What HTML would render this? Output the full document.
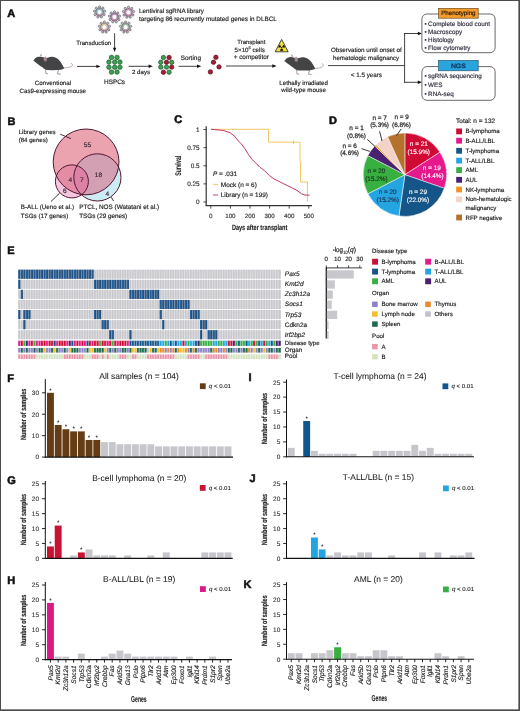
<!DOCTYPE html><html><head><meta charset="utf-8"><title>Figure</title><style>html,body{margin:0;padding:0;background:#fff;width:520px;height:711px;overflow:hidden}svg{display:block;will-change:transform}text{font-family:"Liberation Sans",sans-serif;text-rendering:geometricPrecision}</style></head><body><svg width="520" height="711" viewBox="0 0 520 711" fill="#222"><text x="7.20" y="17.10" font-size="11.00" fill="#111" font-weight="bold" stroke="#111" stroke-width="0.55">A</text>
<defs><linearGradient id="vg1" x1="0" y1="0" x2="0" y2="1"><stop offset="0" stop-color="#86c7c9"/><stop offset="0.5" stop-color="#86c7c9"/><stop offset="1" stop-color="#d890ac"/></linearGradient></defs>
<circle cx="99.60" cy="7.00" r="1.15" fill="#c8c8cc" stroke="#4a4450" stroke-width="0.55"/>
<circle cx="102.88" cy="8.19" r="1.15" fill="#c8c8cc" stroke="#4a4450" stroke-width="0.55"/>
<circle cx="104.62" cy="11.21" r="1.15" fill="#c8c8cc" stroke="#4a4450" stroke-width="0.55"/>
<circle cx="104.02" cy="14.65" r="1.15" fill="#c8c8cc" stroke="#4a4450" stroke-width="0.55"/>
<circle cx="101.34" cy="16.89" r="1.15" fill="#c8c8cc" stroke="#4a4450" stroke-width="0.55"/>
<circle cx="97.86" cy="16.89" r="1.15" fill="#c8c8cc" stroke="#4a4450" stroke-width="0.55"/>
<circle cx="95.18" cy="14.65" r="1.15" fill="#c8c8cc" stroke="#4a4450" stroke-width="0.55"/>
<circle cx="94.58" cy="11.21" r="1.15" fill="#c8c8cc" stroke="#4a4450" stroke-width="0.55"/>
<circle cx="96.32" cy="8.19" r="1.15" fill="#c8c8cc" stroke="#4a4450" stroke-width="0.55"/>
<circle cx="99.60" cy="12.10" r="3.90" fill="url(#vg1)" stroke="#5a4a66" stroke-width="0.6"/>
<circle cx="99.60" cy="12.10" r="2.40" fill="#fff" stroke="#9a7a90" stroke-width="0.4"/>
<defs><linearGradient id="vg2" x1="0" y1="0" x2="0" y2="1"><stop offset="0" stop-color="#b88ab9"/><stop offset="0.5" stop-color="#b88ab9"/><stop offset="1" stop-color="#d890ac"/></linearGradient></defs>
<circle cx="114.50" cy="11.90" r="1.15" fill="#c8c8cc" stroke="#4a4450" stroke-width="0.55"/>
<circle cx="117.78" cy="13.09" r="1.15" fill="#c8c8cc" stroke="#4a4450" stroke-width="0.55"/>
<circle cx="119.52" cy="16.11" r="1.15" fill="#c8c8cc" stroke="#4a4450" stroke-width="0.55"/>
<circle cx="118.92" cy="19.55" r="1.15" fill="#c8c8cc" stroke="#4a4450" stroke-width="0.55"/>
<circle cx="116.24" cy="21.79" r="1.15" fill="#c8c8cc" stroke="#4a4450" stroke-width="0.55"/>
<circle cx="112.76" cy="21.79" r="1.15" fill="#c8c8cc" stroke="#4a4450" stroke-width="0.55"/>
<circle cx="110.08" cy="19.55" r="1.15" fill="#c8c8cc" stroke="#4a4450" stroke-width="0.55"/>
<circle cx="109.48" cy="16.11" r="1.15" fill="#c8c8cc" stroke="#4a4450" stroke-width="0.55"/>
<circle cx="111.22" cy="13.09" r="1.15" fill="#c8c8cc" stroke="#4a4450" stroke-width="0.55"/>
<circle cx="114.50" cy="17.00" r="3.90" fill="url(#vg2)" stroke="#5a4a66" stroke-width="0.6"/>
<circle cx="114.50" cy="17.00" r="2.40" fill="#fff" stroke="#9a7a90" stroke-width="0.4"/>
<defs><linearGradient id="vg3" x1="0" y1="0" x2="0" y2="1"><stop offset="0" stop-color="#d898b8"/><stop offset="0.5" stop-color="#d898b8"/><stop offset="1" stop-color="#d890ac"/></linearGradient></defs>
<circle cx="128.50" cy="7.30" r="1.15" fill="#c8c8cc" stroke="#4a4450" stroke-width="0.55"/>
<circle cx="131.78" cy="8.49" r="1.15" fill="#c8c8cc" stroke="#4a4450" stroke-width="0.55"/>
<circle cx="133.52" cy="11.51" r="1.15" fill="#c8c8cc" stroke="#4a4450" stroke-width="0.55"/>
<circle cx="132.92" cy="14.95" r="1.15" fill="#c8c8cc" stroke="#4a4450" stroke-width="0.55"/>
<circle cx="130.24" cy="17.19" r="1.15" fill="#c8c8cc" stroke="#4a4450" stroke-width="0.55"/>
<circle cx="126.76" cy="17.19" r="1.15" fill="#c8c8cc" stroke="#4a4450" stroke-width="0.55"/>
<circle cx="124.08" cy="14.95" r="1.15" fill="#c8c8cc" stroke="#4a4450" stroke-width="0.55"/>
<circle cx="123.48" cy="11.51" r="1.15" fill="#c8c8cc" stroke="#4a4450" stroke-width="0.55"/>
<circle cx="125.22" cy="8.49" r="1.15" fill="#c8c8cc" stroke="#4a4450" stroke-width="0.55"/>
<circle cx="128.50" cy="12.40" r="3.90" fill="url(#vg3)" stroke="#5a4a66" stroke-width="0.6"/>
<circle cx="128.50" cy="12.40" r="2.40" fill="#fff" stroke="#9a7a90" stroke-width="0.4"/>
<defs><linearGradient id="vg4" x1="0" y1="0" x2="0" y2="1"><stop offset="0" stop-color="#e6dc98"/><stop offset="0.5" stop-color="#e6dc98"/><stop offset="1" stop-color="#d890ac"/></linearGradient></defs>
<circle cx="104.40" cy="22.10" r="1.15" fill="#c8c8cc" stroke="#4a4450" stroke-width="0.55"/>
<circle cx="107.68" cy="23.29" r="1.15" fill="#c8c8cc" stroke="#4a4450" stroke-width="0.55"/>
<circle cx="109.42" cy="26.31" r="1.15" fill="#c8c8cc" stroke="#4a4450" stroke-width="0.55"/>
<circle cx="108.82" cy="29.75" r="1.15" fill="#c8c8cc" stroke="#4a4450" stroke-width="0.55"/>
<circle cx="106.14" cy="31.99" r="1.15" fill="#c8c8cc" stroke="#4a4450" stroke-width="0.55"/>
<circle cx="102.66" cy="31.99" r="1.15" fill="#c8c8cc" stroke="#4a4450" stroke-width="0.55"/>
<circle cx="99.98" cy="29.75" r="1.15" fill="#c8c8cc" stroke="#4a4450" stroke-width="0.55"/>
<circle cx="99.38" cy="26.31" r="1.15" fill="#c8c8cc" stroke="#4a4450" stroke-width="0.55"/>
<circle cx="101.12" cy="23.29" r="1.15" fill="#c8c8cc" stroke="#4a4450" stroke-width="0.55"/>
<circle cx="104.40" cy="27.20" r="3.90" fill="url(#vg4)" stroke="#5a4a66" stroke-width="0.6"/>
<circle cx="104.40" cy="27.20" r="2.40" fill="#fff" stroke="#9a7a90" stroke-width="0.4"/>
<defs><linearGradient id="vg5" x1="0" y1="0" x2="0" y2="1"><stop offset="0" stop-color="#98cca0"/><stop offset="0.5" stop-color="#98cca0"/><stop offset="1" stop-color="#d890ac"/></linearGradient></defs>
<circle cx="125.60" cy="22.10" r="1.15" fill="#c8c8cc" stroke="#4a4450" stroke-width="0.55"/>
<circle cx="128.88" cy="23.29" r="1.15" fill="#c8c8cc" stroke="#4a4450" stroke-width="0.55"/>
<circle cx="130.62" cy="26.31" r="1.15" fill="#c8c8cc" stroke="#4a4450" stroke-width="0.55"/>
<circle cx="130.02" cy="29.75" r="1.15" fill="#c8c8cc" stroke="#4a4450" stroke-width="0.55"/>
<circle cx="127.34" cy="31.99" r="1.15" fill="#c8c8cc" stroke="#4a4450" stroke-width="0.55"/>
<circle cx="123.86" cy="31.99" r="1.15" fill="#c8c8cc" stroke="#4a4450" stroke-width="0.55"/>
<circle cx="121.18" cy="29.75" r="1.15" fill="#c8c8cc" stroke="#4a4450" stroke-width="0.55"/>
<circle cx="120.58" cy="26.31" r="1.15" fill="#c8c8cc" stroke="#4a4450" stroke-width="0.55"/>
<circle cx="122.32" cy="23.29" r="1.15" fill="#c8c8cc" stroke="#4a4450" stroke-width="0.55"/>
<circle cx="125.60" cy="27.20" r="3.90" fill="url(#vg5)" stroke="#5a4a66" stroke-width="0.6"/>
<circle cx="125.60" cy="27.20" r="2.40" fill="#fff" stroke="#9a7a90" stroke-width="0.4"/>
<text x="139.00" y="13.30" font-size="6.26" fill="#222" stroke="#222" stroke-width="0.16" textLength="65.00" lengthAdjust="spacingAndGlyphs">Lentiviral sgRNA library</text>
<text x="139.00" y="20.70" font-size="6.30" fill="#222" stroke="#222" stroke-width="0.16" textLength="137.80" lengthAdjust="spacingAndGlyphs">targeting 86 recurrently mutated genes in DLBCL</text>
<text x="76.20" y="44.90" font-size="6.10" fill="#222" stroke="#222" stroke-width="0.16" textLength="35.00" lengthAdjust="spacingAndGlyphs">Transduction</text>
<line x1="114.60" y1="33.20" x2="114.60" y2="48.30" stroke="#111" stroke-width="0.80" />
<path d="M114.60 52.00 L112.90 47.80 L116.30 47.80 Z" fill="#111"/>
<g transform="translate(0.00 0.00)">
<path d="M63.6 67.9 C67 67.9 70 67.4 71.8 66.2 C73 65.2 72.7 63.8 71.2 63.4" fill="none" stroke="#b3a3a3" stroke-width="0.9" stroke-linecap="round"/>
<path d="M45.6 69.4 L45.9 73.3 L47.6 73.7" fill="none" stroke="#b8a2a2" stroke-width="1.1" stroke-linecap="round"/>
<path d="M58.6 69.8 L57.4 73.6 L60.2 74.1" fill="none" stroke="#b8a2a2" stroke-width="1.1" stroke-linecap="round"/>
<path d="M33.5 60.6 C34.5 58.6 35.8 57.7 37.5 57.1 C39.5 56.4 41.5 56.6 43.3 57.3 C45 57.8 46.2 58.2 47.7 57.7 C49.5 57 51 56.7 52.5 56.8 C55.5 57 58.5 58.8 60.3 61.6 C61.8 63.8 63.2 66.2 64.2 68.2 C63 69.2 61 69.6 58.3 70.1 L52 70.2 L47.5 70.1 C45.5 69.8 44 68.9 42.8 67.6 C41 66.4 39.5 65.4 38 64.2 C36.5 63.2 35 62 33.5 60.6 Z" fill="#444447"/>
<ellipse cx="41.0" cy="55.3" rx="0.85" ry="1.6" fill="#c9aba9"/>
<ellipse cx="45.3" cy="58.9" rx="1.7" ry="2.5" fill="#a89090" opacity="0.9"/>
<circle cx="33.7" cy="60.5" r="0.5" fill="#d0a8a8"/>
</g>
<text x="53.00" y="84.80" font-size="6.20" text-anchor="middle" fill="#222" stroke="#222" stroke-width="0.16" textLength="36.30" lengthAdjust="spacingAndGlyphs">Conventional</text>
<text x="52.80" y="92.50" font-size="6.20" text-anchor="middle" fill="#222" stroke="#222" stroke-width="0.16" textLength="66.50" lengthAdjust="spacingAndGlyphs">Cas9-expressing mouse</text>
<line x1="77.00" y1="66.40" x2="96.90" y2="66.40" stroke="#111" stroke-width="0.80" />
<path d="M100.60 66.40 L96.40 64.70 L96.40 68.10 Z" fill="#111"/>
<circle cx="111.50" cy="57.40" r="2.25" fill="#3f9d55" stroke="#1d5a2c" stroke-width="0.7"/>
<circle cx="117.00" cy="57.40" r="2.25" fill="#3f9d55" stroke="#1d5a2c" stroke-width="0.7"/>
<circle cx="108.90" cy="62.10" r="2.25" fill="#3f9d55" stroke="#1d5a2c" stroke-width="0.7"/>
<circle cx="114.70" cy="62.10" r="2.25" fill="#3f9d55" stroke="#1d5a2c" stroke-width="0.7"/>
<circle cx="119.90" cy="62.10" r="2.25" fill="#3f9d55" stroke="#1d5a2c" stroke-width="0.7"/>
<circle cx="108.90" cy="67.20" r="2.25" fill="#3f9d55" stroke="#1d5a2c" stroke-width="0.7"/>
<circle cx="114.70" cy="67.20" r="2.25" fill="#3f9d55" stroke="#1d5a2c" stroke-width="0.7"/>
<circle cx="119.90" cy="67.20" r="2.25" fill="#3f9d55" stroke="#1d5a2c" stroke-width="0.7"/>
<circle cx="111.50" cy="72.10" r="2.25" fill="#3f9d55" stroke="#1d5a2c" stroke-width="0.7"/>
<circle cx="117.00" cy="72.10" r="2.25" fill="#3f9d55" stroke="#1d5a2c" stroke-width="0.7"/>
<text x="114.50" y="83.80" font-size="6.40" text-anchor="middle" fill="#222" stroke="#222" stroke-width="0.16" textLength="21.00" lengthAdjust="spacingAndGlyphs">HSPCs</text>
<line x1="128.50" y1="66.30" x2="149.10" y2="66.30" stroke="#111" stroke-width="0.80" />
<path d="M152.80 66.30 L148.60 64.60 L148.60 68.00 Z" fill="#111"/>
<text x="141.00" y="74.40" font-size="6.10" text-anchor="middle" fill="#222" stroke="#222" stroke-width="0.16" textLength="18.00" lengthAdjust="spacingAndGlyphs">2 days</text>
<circle cx="163.40" cy="57.50" r="2.20" fill="#3f9d55" stroke="#1d5a2c" stroke-width="0.7"/>
<circle cx="169.10" cy="57.50" r="2.20" fill="#a51d38" stroke="#5e0f1f" stroke-width="0.7"/>
<circle cx="160.80" cy="62.30" r="2.20" fill="#3f9d55" stroke="#1d5a2c" stroke-width="0.7"/>
<circle cx="166.50" cy="62.30" r="2.20" fill="#a51d38" stroke="#5e0f1f" stroke-width="0.7"/>
<circle cx="171.70" cy="62.30" r="2.20" fill="#3f9d55" stroke="#1d5a2c" stroke-width="0.7"/>
<circle cx="160.80" cy="67.10" r="2.20" fill="#3f9d55" stroke="#1d5a2c" stroke-width="0.7"/>
<circle cx="166.50" cy="67.10" r="2.20" fill="#3f9d55" stroke="#1d5a2c" stroke-width="0.7"/>
<circle cx="171.70" cy="67.10" r="2.20" fill="#a51d38" stroke="#5e0f1f" stroke-width="0.7"/>
<circle cx="163.40" cy="72.20" r="2.20" fill="#a51d38" stroke="#5e0f1f" stroke-width="0.7"/>
<circle cx="169.10" cy="72.20" r="2.20" fill="#3f9d55" stroke="#1d5a2c" stroke-width="0.7"/>
<line x1="178.60" y1="66.30" x2="197.50" y2="66.30" stroke="#111" stroke-width="0.80" />
<path d="M201.20 66.30 L197.00 64.60 L197.00 68.00 Z" fill="#111"/>
<text x="190.80" y="59.70" font-size="6.40" text-anchor="middle" fill="#222" stroke="#222" stroke-width="0.16" textLength="20.30" lengthAdjust="spacingAndGlyphs">Sorting</text>
<circle cx="215.90" cy="57.30" r="2.20" fill="#a51d38" stroke="#5e0f1f" stroke-width="0.7"/>
<circle cx="213.50" cy="62.20" r="2.20" fill="#a51d38" stroke="#5e0f1f" stroke-width="0.7"/>
<circle cx="219.00" cy="66.90" r="2.20" fill="#a51d38" stroke="#5e0f1f" stroke-width="0.7"/>
<circle cx="210.40" cy="71.90" r="2.20" fill="#a51d38" stroke="#5e0f1f" stroke-width="0.7"/>
<line x1="226.00" y1="66.00" x2="272.80" y2="66.00" stroke="#111" stroke-width="0.80" />
<path d="M276.50 66.00 L272.30 64.30 L272.30 67.70 Z" fill="#111"/>
<text x="251.30" y="43.80" font-size="6.00" text-anchor="middle" fill="#222" stroke="#222" stroke-width="0.16" textLength="28.20" lengthAdjust="spacingAndGlyphs">Transplant</text>
<text x="234.6" y="51.6" font-size="6.2" fill="#222" stroke="#222" stroke-width="0.16">5×10<tspan font-size="4" dy="-2.3">5</tspan><tspan dy="2.3"> cells</tspan></text>
<text x="251.30" y="59.40" font-size="6.37" text-anchor="middle" fill="#222" stroke="#222" stroke-width="0.16" textLength="35.20" lengthAdjust="spacingAndGlyphs">+ competitor</text>
<path d="M275.1 51.8 L281.65 39.4 L288.2 51.8 Z" fill="#f3de3c" stroke="#222" stroke-width="0.8" stroke-linejoin="round"/>
<path d="M280.55 47.60 L278.25 47.60 A3.40 3.40 0 0 1 279.95 44.66 L281.10 46.65 A1.10 1.10 0 0 0 280.55 47.60 Z" fill="#111"/>
<path d="M282.20 46.65 L283.35 44.66 A3.40 3.40 0 0 1 285.05 47.60 L282.75 47.60 A1.10 1.10 0 0 0 282.20 46.65 Z" fill="#111"/>
<path d="M282.20 48.55 L283.35 50.54 A3.40 3.40 0 0 1 279.95 50.54 L281.10 48.55 A1.10 1.10 0 0 0 282.20 48.55 Z" fill="#111"/>
<circle cx="281.65" cy="47.60" r="0.70" fill="#111" />
<g transform="translate(251.00 0.40)">
<path d="M63.6 67.9 C67 67.9 70 67.4 71.8 66.2 C73 65.2 72.7 63.8 71.2 63.4" fill="none" stroke="#b3a3a3" stroke-width="0.9" stroke-linecap="round"/>
<path d="M45.6 69.4 L45.9 73.3 L47.6 73.7" fill="none" stroke="#b8a2a2" stroke-width="1.1" stroke-linecap="round"/>
<path d="M58.6 69.8 L57.4 73.6 L60.2 74.1" fill="none" stroke="#b8a2a2" stroke-width="1.1" stroke-linecap="round"/>
<path d="M33.5 60.6 C34.5 58.6 35.8 57.7 37.5 57.1 C39.5 56.4 41.5 56.6 43.3 57.3 C45 57.8 46.2 58.2 47.7 57.7 C49.5 57 51 56.7 52.5 56.8 C55.5 57 58.5 58.8 60.3 61.6 C61.8 63.8 63.2 66.2 64.2 68.2 C63 69.2 61 69.6 58.3 70.1 L52 70.2 L47.5 70.1 C45.5 69.8 44 68.9 42.8 67.6 C41 66.4 39.5 65.4 38 64.2 C36.5 63.2 35 62 33.5 60.6 Z" fill="#444447"/>
<ellipse cx="41.0" cy="55.3" rx="0.85" ry="1.6" fill="#c9aba9"/>
<ellipse cx="45.3" cy="58.9" rx="1.7" ry="2.5" fill="#a89090" opacity="0.9"/>
<circle cx="33.7" cy="60.5" r="0.5" fill="#d0a8a8"/>
</g>
<text x="303.60" y="84.50" font-size="6.15" text-anchor="middle" fill="#222" stroke="#222" stroke-width="0.16" textLength="48.50" lengthAdjust="spacingAndGlyphs">Lethally irradiated</text>
<text x="303.60" y="92.20" font-size="6.15" text-anchor="middle" fill="#222" stroke="#222" stroke-width="0.16" textLength="44.50" lengthAdjust="spacingAndGlyphs">wild-type mouse</text>
<line x1="328.00" y1="65.60" x2="404.60" y2="65.60" stroke="#111" stroke-width="0.80" />
<line x1="404.60" y1="33.10" x2="404.60" y2="82.70" stroke="#111" stroke-width="0.80" />
<line x1="404.20" y1="33.50" x2="418.30" y2="33.50" stroke="#111" stroke-width="0.80" />
<path d="M422.00 33.50 L417.80 31.80 L417.80 35.20 Z" fill="#111"/>
<line x1="404.20" y1="82.30" x2="418.30" y2="82.30" stroke="#111" stroke-width="0.80" />
<path d="M422.00 82.30 L417.80 80.60 L417.80 84.00 Z" fill="#111"/>
<text x="366.30" y="51.50" font-size="6.23" text-anchor="middle" fill="#222" stroke="#222" stroke-width="0.16" textLength="70.70" lengthAdjust="spacingAndGlyphs">Observation until onset of</text>
<text x="366.10" y="59.80" font-size="6.17" text-anchor="middle" fill="#222" stroke="#222" stroke-width="0.16" textLength="66.20" lengthAdjust="spacingAndGlyphs">hematologic malignancy</text>
<text x="366.40" y="76.50" font-size="6.27" text-anchor="middle" fill="#222" stroke="#222" stroke-width="0.16" textLength="31.20" lengthAdjust="spacingAndGlyphs">&lt; 1.5 years</text>
<rect x="421.9" y="14.0" width="73.2" height="38.7" rx="5" fill="#fff" stroke="#444" stroke-width="0.8"/>
<rect x="438.5" y="8.3" width="39.7" height="9.9" fill="#f39c2b" stroke="#5b3c14" stroke-width="0.6"/>
<text x="458.35" y="15.00" font-size="6.20" text-anchor="middle" fill="#3a2208" stroke="#3a2208" stroke-width="0.22" textLength="34.40" lengthAdjust="spacingAndGlyphs">Phenotyping</text>
<text x="424.40" y="26.40" font-size="6.30" fill="#2e2e3e" stroke="#2e2e3e" stroke-width="0.16">•</text>
<text x="428.10" y="26.40" font-size="6.30" fill="#2e2e3e" stroke="#2e2e3e" stroke-width="0.16" textLength="62.00" lengthAdjust="spacingAndGlyphs">Complete blood count</text>
<text x="424.40" y="34.20" font-size="6.30" fill="#2e2e3e" stroke="#2e2e3e" stroke-width="0.16">•</text>
<text x="428.10" y="34.20" font-size="6.30" fill="#2e2e3e" stroke="#2e2e3e" stroke-width="0.16">Macroscopy</text>
<text x="424.40" y="42.00" font-size="6.30" fill="#2e2e3e" stroke="#2e2e3e" stroke-width="0.16">•</text>
<text x="428.10" y="42.00" font-size="6.30" fill="#2e2e3e" stroke="#2e2e3e" stroke-width="0.16">Histology</text>
<text x="424.40" y="49.70" font-size="6.30" fill="#2e2e3e" stroke="#2e2e3e" stroke-width="0.16">•</text>
<text x="428.10" y="49.70" font-size="6.30" fill="#2e2e3e" stroke="#2e2e3e" stroke-width="0.16">Flow cytometry</text>
<rect x="421.9" y="66.6" width="73.2" height="33.7" rx="5" fill="#fff" stroke="#444" stroke-width="0.8"/>
<rect x="438.5" y="60.4" width="39.7" height="10.4" fill="#2aa4dc" stroke="#1b4a6a" stroke-width="0.6"/>
<text x="458.35" y="67.60" font-size="6.30" text-anchor="middle" fill="#0d3560" stroke="#0d3560" stroke-width="0.30" textLength="14.80" lengthAdjust="spacingAndGlyphs">NGS</text>
<text x="424.40" y="77.70" font-size="6.30" fill="#2e2e3e" stroke="#2e2e3e" stroke-width="0.16">•</text>
<text x="428.10" y="77.70" font-size="6.30" fill="#2e2e3e" stroke="#2e2e3e" stroke-width="0.16">sgRNA sequencing</text>
<text x="424.40" y="87.40" font-size="6.30" fill="#2e2e3e" stroke="#2e2e3e" stroke-width="0.16">•</text>
<text x="428.10" y="87.40" font-size="6.30" fill="#2e2e3e" stroke="#2e2e3e" stroke-width="0.16">WES</text>
<text x="424.40" y="96.20" font-size="6.30" fill="#2e2e3e" stroke="#2e2e3e" stroke-width="0.16">•</text>
<text x="428.10" y="96.20" font-size="6.30" fill="#2e2e3e" stroke="#2e2e3e" stroke-width="0.16">RNA-seq</text>
<text x="7.60" y="124.80" font-size="11.00" fill="#111" font-weight="bold" stroke="#111" stroke-width="0.55">B</text>
<defs><clipPath id="cL"><circle cx="86.10" cy="161.90" r="32.90"/></clipPath><clipPath id="cP"><circle cx="97.40" cy="177.40" r="23.60"/></clipPath><clipPath id="cS"><circle cx="71.90" cy="181.40" r="16.50"/></clipPath></defs>
<circle cx="97.40" cy="177.40" r="23.60" fill="#cdebf2" />
<circle cx="71.90" cy="181.40" r="16.50" fill="#f4c6df" />
<circle cx="86.10" cy="161.90" r="32.90" fill="#eba3b0" />
<g clip-path="url(#cL)">
<circle cx="97.40" cy="177.40" r="23.60" fill="#d2a0b2" />
<circle cx="71.90" cy="181.40" r="16.50" fill="#e48ca5" />
<g clip-path="url(#cP)">
<circle cx="71.90" cy="181.40" r="16.50" fill="#dc82a5" />
</g></g>
<circle cx="86.10" cy="161.90" r="32.90" fill="none" stroke="#4e1732" stroke-width="1.0"/>
<circle cx="97.40" cy="177.40" r="23.60" fill="none" stroke="#4e1732" stroke-width="1.0"/>
<circle cx="71.90" cy="181.40" r="16.50" fill="none" stroke="#4e1732" stroke-width="1.0"/>
<text x="87.40" y="147.40" font-size="6.50" text-anchor="middle" fill="#3a2030" stroke="#3a2030" stroke-width="0.16">55</text>
<text x="98.40" y="176.50" font-size="6.50" text-anchor="middle" fill="#3a2030" stroke="#3a2030" stroke-width="0.16">18</text>
<text x="70.20" y="181.60" font-size="6.50" text-anchor="middle" fill="#3a2030" stroke="#3a2030" stroke-width="0.16">4</text>
<text x="81.70" y="181.90" font-size="6.50" text-anchor="middle" fill="#3a2030" stroke="#3a2030" stroke-width="0.16">7</text>
<text x="64.70" y="193.10" font-size="6.50" text-anchor="middle" fill="#3a2030" stroke="#3a2030" stroke-width="0.16">6</text>
<text x="107.40" y="196.30" font-size="6.50" text-anchor="middle" fill="#3a2030" stroke="#3a2030" stroke-width="0.16">4</text>
<text x="18.70" y="133.70" font-size="6.10" fill="#222" stroke="#222" stroke-width="0.16" textLength="37.00" lengthAdjust="spacingAndGlyphs">Library genes</text>
<text x="18.70" y="141.50" font-size="6.10" fill="#222" stroke="#222" stroke-width="0.16">(84 genes)</text>
<line x1="60.20" y1="134.20" x2="70.90" y2="138.60" stroke="#3a1a2a" stroke-width="0.90" />
<text x="20.80" y="209.20" font-size="6.24" fill="#222" stroke="#222" stroke-width="0.16" textLength="53.20" lengthAdjust="spacingAndGlyphs">B-ALL (Ueno et al.)</text>
<text x="20.80" y="217.80" font-size="6.24" fill="#222" stroke="#222" stroke-width="0.16">TSGs (17 genes)</text>
<text x="79.20" y="209.20" font-size="6.36" fill="#222" stroke="#222" stroke-width="0.16" textLength="80.00" lengthAdjust="spacingAndGlyphs">PTCL, NOS (Watatani et al.)</text>
<text x="79.20" y="217.80" font-size="6.30" fill="#222" stroke="#222" stroke-width="0.16">TSGs (29 genes)</text>
<line x1="51.00" y1="201.50" x2="59.60" y2="193.20" stroke="#2a1a22" stroke-width="0.90" />
<line x1="113.60" y1="201.00" x2="111.20" y2="197.20" stroke="#2a1a22" stroke-width="0.90" />
<text x="174.20" y="123.10" font-size="11.00" fill="#111" font-weight="bold" stroke="#111" stroke-width="0.55">C</text>
<line x1="206.20" y1="126.20" x2="206.20" y2="205.90" stroke="#333" stroke-width="1.20" />
<line x1="205.60" y1="205.60" x2="312.00" y2="205.60" stroke="#333" stroke-width="1.20" />
<line x1="203.40" y1="129.50" x2="206.50" y2="129.50" stroke="#222" stroke-width="0.80" />
<text x="199.60" y="131.80" font-size="6.40" text-anchor="end" fill="#333" stroke="#333" stroke-width="0.16">1</text>
<line x1="203.40" y1="147.62" x2="206.50" y2="147.62" stroke="#222" stroke-width="0.80" />
<text x="199.60" y="149.93" font-size="6.40" text-anchor="end" fill="#333" stroke="#333" stroke-width="0.16">0.75</text>
<line x1="203.40" y1="165.75" x2="206.50" y2="165.75" stroke="#222" stroke-width="0.80" />
<text x="199.60" y="168.05" font-size="6.40" text-anchor="end" fill="#333" stroke="#333" stroke-width="0.16">0.5</text>
<line x1="203.40" y1="183.88" x2="206.50" y2="183.88" stroke="#222" stroke-width="0.80" />
<text x="199.60" y="186.18" font-size="6.40" text-anchor="end" fill="#333" stroke="#333" stroke-width="0.16">0.25</text>
<line x1="203.40" y1="202.00" x2="206.50" y2="202.00" stroke="#222" stroke-width="0.80" />
<text x="199.60" y="204.30" font-size="6.40" text-anchor="end" fill="#333" stroke="#333" stroke-width="0.16">0</text>
<line x1="210.80" y1="205.50" x2="210.80" y2="208.60" stroke="#222" stroke-width="0.80" />
<text x="210.80" y="217.70" font-size="6.20" text-anchor="middle" fill="#333" stroke="#333" stroke-width="0.16">0</text>
<line x1="230.40" y1="205.50" x2="230.40" y2="208.60" stroke="#222" stroke-width="0.80" />
<text x="230.40" y="217.70" font-size="6.20" text-anchor="middle" fill="#333" stroke="#333" stroke-width="0.16">100</text>
<line x1="250.00" y1="205.50" x2="250.00" y2="208.60" stroke="#222" stroke-width="0.80" />
<text x="250.00" y="217.70" font-size="6.20" text-anchor="middle" fill="#333" stroke="#333" stroke-width="0.16">200</text>
<line x1="269.60" y1="205.50" x2="269.60" y2="208.60" stroke="#222" stroke-width="0.80" />
<text x="269.60" y="217.70" font-size="6.20" text-anchor="middle" fill="#333" stroke="#333" stroke-width="0.16">300</text>
<line x1="289.20" y1="205.50" x2="289.20" y2="208.60" stroke="#222" stroke-width="0.80" />
<text x="289.20" y="217.70" font-size="6.20" text-anchor="middle" fill="#333" stroke="#333" stroke-width="0.16">400</text>
<line x1="308.80" y1="205.50" x2="308.80" y2="208.60" stroke="#222" stroke-width="0.80" />
<text x="308.80" y="217.70" font-size="6.20" text-anchor="middle" fill="#333" stroke="#333" stroke-width="0.16">500</text>
<text x="259.60" y="229.90" font-size="7.70" text-anchor="middle" fill="#222" font-weight="bold" textLength="55.40" lengthAdjust="spacingAndGlyphs" stroke="#222" stroke-width="0.1">Days after transplant</text>
<text x="0" y="0" font-size="8.3" text-anchor="middle" textLength="20" lengthAdjust="spacingAndGlyphs" font-weight="bold" fill="#222" stroke="#222" stroke-width="0.1" transform="translate(181.4 165.8) rotate(-90)">Survival</text>
<path d="M211.1 129.3 H268.6 V142.2 H300.0 V161.6 H300.6 V181.9 H307.4 V202.0" fill="none" stroke="#f2c14e" stroke-width="0.9"/>
<line x1="293.50" y1="140.60" x2="293.50" y2="143.80" stroke="#e8b040" stroke-width="0.80" />
<path d="M211.1 129.3 L223.1 130.4 L230.0 132.7 L234.6 136.2 L238.1 140.8 L241.6 144.2 L245.0 148.9 L248.5 154.6 L252.0 159.3 L255.4 162.7 L260.0 167.3 L264.7 170.8 L269.3 175.4 L273.9 178.9 L278.5 181.2 L283.1 183.5 L287.8 185.8 L292.4 188.1 L297.0 190.4 L301.6 193.9 L305.1 195.1 L309.5 195.1" fill="none" stroke="#c0365c" stroke-width="1.0" stroke-linejoin="round"/>
<text x="213.00" y="176.00" font-size="6.40" fill="#222" stroke="#222" stroke-width="0.16"><tspan font-style="italic">P</tspan> = .031</text>
<line x1="213.00" y1="184.40" x2="218.00" y2="184.40" stroke="#f2c14e" stroke-width="0.90" />
<text x="220.80" y="186.50" font-size="6.40" fill="#222" stroke="#222" stroke-width="0.16" textLength="36.00" lengthAdjust="spacingAndGlyphs">Mock (n = 6)</text>
<line x1="213.00" y1="195.00" x2="218.00" y2="195.00" stroke="#c0365c" stroke-width="0.90" />
<text x="220.80" y="197.10" font-size="6.40" fill="#222" stroke="#222" stroke-width="0.16">Library (n = 199)</text>
<text x="329.00" y="123.60" font-size="11.00" fill="#111" font-weight="bold" stroke="#111" stroke-width="0.55">D</text>
<path d="M404.90 174.70 L404.90 133.00 A41.70 41.70 0 0 1 439.98 152.16 Z" fill="#d00a34" stroke="#fff" stroke-width="0.5" stroke-linejoin="round"/>
<path d="M404.90 174.70 L439.98 152.16 A41.70 41.70 0 0 1 444.31 188.34 Z" fill="#e6198c" stroke="#fff" stroke-width="0.5" stroke-linejoin="round"/>
<path d="M404.90 174.70 L444.31 188.34 A41.70 41.70 0 0 1 398.97 215.98 Z" fill="#165588" stroke="#fff" stroke-width="0.5" stroke-linejoin="round"/>
<path d="M404.90 174.70 L398.97 215.98 A41.70 41.70 0 0 1 367.84 193.81 Z" fill="#23a5e1" stroke="#fff" stroke-width="0.5" stroke-linejoin="round"/>
<path d="M404.90 174.70 L367.84 193.81 A41.70 41.70 0 0 1 367.84 155.59 Z" fill="#37af41" stroke="#fff" stroke-width="0.5" stroke-linejoin="round"/>
<path d="M404.90 174.70 L367.84 155.59 A41.70 41.70 0 0 1 374.72 145.92 Z" fill="#4a2070" stroke="#fff" stroke-width="0.5" stroke-linejoin="round"/>
<path d="M404.90 174.70 L374.72 145.92 A41.70 41.70 0 0 1 376.12 144.52 Z" fill="#f5921e" stroke="#fff" stroke-width="0.5" stroke-linejoin="round"/>
<path d="M404.90 174.70 L376.12 144.52 A41.70 41.70 0 0 1 387.58 136.77 Z" fill="#f2d3c5" stroke="#fff" stroke-width="0.5" stroke-linejoin="round"/>
<path d="M404.90 174.70 L387.58 136.77 A41.70 41.70 0 0 1 404.90 133.00 Z" fill="#b6712e" stroke="#fff" stroke-width="0.5" stroke-linejoin="round"/>
<text x="418.80" y="145.90" font-size="6.40" text-anchor="middle" fill="#fff" stroke="#fff" stroke-width="0.14">n = 21</text>
<text x="418.80" y="154.20" font-size="6.40" text-anchor="middle" fill="#fff" stroke="#fff" stroke-width="0.14">(15.9%)</text>
<text x="431.80" y="169.80" font-size="6.40" text-anchor="middle" fill="#fff" stroke="#fff" stroke-width="0.14">n = 19</text>
<text x="432.50" y="178.10" font-size="6.40" text-anchor="middle" fill="#fff" stroke="#fff" stroke-width="0.14">(14.4%)</text>
<text x="418.00" y="194.00" font-size="6.40" text-anchor="middle" fill="#fff" stroke="#fff" stroke-width="0.14">n = 29</text>
<text x="418.00" y="202.30" font-size="6.40" text-anchor="middle" fill="#fff" stroke="#fff" stroke-width="0.14">(22.0%)</text>
<text x="387.70" y="194.00" font-size="6.40" text-anchor="middle" fill="#1f2f4f" stroke="#1f2f4f" stroke-width="0.14">n = 20</text>
<text x="387.70" y="202.30" font-size="6.40" text-anchor="middle" fill="#1f2f4f" stroke="#1f2f4f" stroke-width="0.14">(15.2%)</text>
<text x="376.40" y="172.90" font-size="6.40" text-anchor="middle" fill="#17301a" stroke="#17301a" stroke-width="0.14">n = 20</text>
<text x="376.40" y="181.00" font-size="6.40" text-anchor="middle" fill="#17301a" stroke="#17301a" stroke-width="0.14">(15.2%)</text>
<text x="379.60" y="119.50" font-size="6.40" text-anchor="middle" fill="#333" stroke="#333" stroke-width="0.26">n = 7</text>
<text x="379.60" y="127.20" font-size="6.40" text-anchor="middle" fill="#333" stroke="#333" stroke-width="0.26">(5.3%)</text>
<text x="401.70" y="118.80" font-size="6.40" text-anchor="middle" fill="#333" stroke="#333" stroke-width="0.26">n = 9</text>
<text x="401.50" y="127.00" font-size="6.40" text-anchor="middle" fill="#333" stroke="#333" stroke-width="0.26">(6.8%)</text>
<text x="356.50" y="129.70" font-size="6.40" text-anchor="middle" fill="#333" stroke="#333" stroke-width="0.26">n = 1</text>
<text x="356.50" y="138.00" font-size="6.40" text-anchor="middle" fill="#333" stroke="#333" stroke-width="0.26">(0.8%)</text>
<text x="349.60" y="147.70" font-size="6.40" text-anchor="middle" fill="#333" stroke="#333" stroke-width="0.26">n = 6</text>
<text x="349.60" y="155.00" font-size="6.40" text-anchor="middle" fill="#333" stroke="#333" stroke-width="0.26">(4.6%)</text>
<line x1="379.60" y1="131.30" x2="382.00" y2="141.00" stroke="#222" stroke-width="0.90" />
<line x1="401.20" y1="129.00" x2="396.50" y2="135.60" stroke="#222" stroke-width="0.90" />
<line x1="367.30" y1="139.40" x2="375.40" y2="146.80" stroke="#222" stroke-width="0.90" />
<line x1="361.40" y1="148.60" x2="369.80" y2="151.40" stroke="#222" stroke-width="0.90" />
<text x="456.10" y="123.20" font-size="6.47" fill="#222" stroke="#222" stroke-width="0.16" textLength="39.00" lengthAdjust="spacingAndGlyphs">Total: n = 132</text>
<rect x="456.20" y="128.50" width="5.80" height="5.80" fill="#d00a34" />
<text x="465.50" y="133.40" font-size="6.10" fill="#222" stroke="#222" stroke-width="0.16">B-lymphoma</text>
<rect x="456.20" y="137.80" width="5.80" height="5.80" fill="#e6198c" />
<text x="465.50" y="142.70" font-size="6.10" fill="#222" stroke="#222" stroke-width="0.16">B-ALL/LBL</text>
<rect x="456.20" y="147.90" width="5.80" height="5.80" fill="#165588" />
<text x="465.50" y="152.80" font-size="6.10" fill="#222" stroke="#222" stroke-width="0.16">T-lymphoma</text>
<rect x="456.20" y="157.70" width="5.80" height="5.80" fill="#23a5e1" />
<text x="465.50" y="162.60" font-size="6.10" fill="#222" stroke="#222" stroke-width="0.16">T-ALL/LBL</text>
<rect x="456.20" y="167.20" width="5.80" height="5.80" fill="#37af41" />
<text x="465.50" y="172.10" font-size="6.10" fill="#222" stroke="#222" stroke-width="0.16">AML</text>
<rect x="456.20" y="176.90" width="5.80" height="5.80" fill="#4a2070" />
<text x="465.50" y="181.80" font-size="6.10" fill="#222" stroke="#222" stroke-width="0.16">AUL</text>
<rect x="456.20" y="186.60" width="5.80" height="5.80" fill="#f5921e" />
<text x="465.50" y="191.50" font-size="6.10" fill="#222" stroke="#222" stroke-width="0.16">NK-lymphoma</text>
<rect x="456.20" y="196.50" width="5.80" height="5.80" fill="#f2d3c5" />
<text x="465.50" y="201.40" font-size="6.10" fill="#222" stroke="#222" stroke-width="0.16">Non-hematologic</text>
<rect x="456.20" y="214.60" width="5.80" height="5.80" fill="#b6712e" />
<text x="465.50" y="219.50" font-size="6.10" fill="#222" stroke="#222" stroke-width="0.16">RFP negative</text>
<text x="465.50" y="209.50" font-size="6.10" fill="#222" stroke="#222" stroke-width="0.16">malignancy</text>
<text x="7.30" y="254.00" font-size="11.00" fill="#111" font-weight="bold" stroke="#111" stroke-width="0.55">E</text>
<rect x="18.20" y="269.70" width="262.60" height="9.10" fill="#c7c7cc" />
<rect x="18.20" y="279.78" width="262.60" height="9.10" fill="#c7c7cc" />
<rect x="18.20" y="289.86" width="262.60" height="9.10" fill="#c7c7cc" />
<rect x="18.20" y="299.94" width="262.60" height="9.10" fill="#c7c7cc" />
<rect x="18.20" y="310.02" width="262.60" height="9.10" fill="#c7c7cc" />
<rect x="18.20" y="320.10" width="262.60" height="9.10" fill="#c7c7cc" />
<rect x="18.20" y="330.18" width="262.60" height="9.10" fill="#c7c7cc" />
<path d="M20.47 269.40 V339.58 M23.00 269.40 V339.58 M25.52 269.40 V339.58 M28.05 269.40 V339.58 M30.57 269.40 V339.58 M33.10 269.40 V339.58 M35.62 269.40 V339.58 M38.15 269.40 V339.58 M40.67 269.40 V339.58 M43.20 269.40 V339.58 M45.72 269.40 V339.58 M48.25 269.40 V339.58 M50.77 269.40 V339.58 M53.30 269.40 V339.58 M55.83 269.40 V339.58 M58.35 269.40 V339.58 M60.88 269.40 V339.58 M63.40 269.40 V339.58 M65.92 269.40 V339.58 M68.45 269.40 V339.58 M70.97 269.40 V339.58 M73.50 269.40 V339.58 M76.02 269.40 V339.58 M78.55 269.40 V339.58 M81.08 269.40 V339.58 M83.60 269.40 V339.58 M86.12 269.40 V339.58 M88.65 269.40 V339.58 M91.17 269.40 V339.58 M93.70 269.40 V339.58 M96.22 269.40 V339.58 M98.75 269.40 V339.58 M101.28 269.40 V339.58 M103.80 269.40 V339.58 M106.33 269.40 V339.58 M108.85 269.40 V339.58 M111.38 269.40 V339.58 M113.90 269.40 V339.58 M116.42 269.40 V339.58 M118.95 269.40 V339.58 M121.47 269.40 V339.58 M124.00 269.40 V339.58 M126.53 269.40 V339.58 M129.05 269.40 V339.58 M131.57 269.40 V339.58 M134.10 269.40 V339.58 M136.62 269.40 V339.58 M139.15 269.40 V339.58 M141.67 269.40 V339.58 M144.20 269.40 V339.58 M146.72 269.40 V339.58 M149.25 269.40 V339.58 M151.77 269.40 V339.58 M154.30 269.40 V339.58 M156.82 269.40 V339.58 M159.35 269.40 V339.58 M161.87 269.40 V339.58 M164.40 269.40 V339.58 M166.92 269.40 V339.58 M169.45 269.40 V339.58 M171.97 269.40 V339.58 M174.50 269.40 V339.58 M177.02 269.40 V339.58 M179.55 269.40 V339.58 M182.07 269.40 V339.58 M184.60 269.40 V339.58 M187.12 269.40 V339.58 M189.65 269.40 V339.58 M192.17 269.40 V339.58 M194.70 269.40 V339.58 M197.22 269.40 V339.58 M199.75 269.40 V339.58 M202.27 269.40 V339.58 M204.80 269.40 V339.58 M207.32 269.40 V339.58 M209.85 269.40 V339.58 M212.37 269.40 V339.58 M214.90 269.40 V339.58 M217.42 269.40 V339.58 M219.95 269.40 V339.58 M222.47 269.40 V339.58 M225.00 269.40 V339.58 M227.52 269.40 V339.58 M230.05 269.40 V339.58 M232.57 269.40 V339.58 M235.10 269.40 V339.58 M237.62 269.40 V339.58 M240.15 269.40 V339.58 M242.67 269.40 V339.58 M245.20 269.40 V339.58 M247.72 269.40 V339.58 M250.25 269.40 V339.58 M252.77 269.40 V339.58 M255.30 269.40 V339.58 M257.82 269.40 V339.58 M260.35 269.40 V339.58 M262.88 269.40 V339.58 M265.40 269.40 V339.58 M267.93 269.40 V339.58 M270.45 269.40 V339.58 M272.97 269.40 V339.58 M275.50 269.40 V339.58 M278.02 269.40 V339.58" stroke="#fff" stroke-width="0.55" opacity="0.85"/>
<rect x="18.20" y="269.70" width="2.02" height="9.10" fill="#2a629b" />
<rect x="20.72" y="269.70" width="2.02" height="9.10" fill="#2a629b" />
<rect x="23.25" y="269.70" width="2.02" height="9.10" fill="#2a629b" />
<rect x="25.77" y="269.70" width="2.02" height="9.10" fill="#2a629b" />
<rect x="28.30" y="269.70" width="2.02" height="9.10" fill="#2a629b" />
<rect x="30.82" y="269.70" width="2.02" height="9.10" fill="#2a629b" />
<rect x="33.35" y="269.70" width="2.02" height="9.10" fill="#2a629b" />
<rect x="35.88" y="269.70" width="2.02" height="9.10" fill="#2a629b" />
<rect x="38.40" y="269.70" width="2.02" height="9.10" fill="#2a629b" />
<rect x="40.92" y="269.70" width="2.02" height="9.10" fill="#2a629b" />
<rect x="43.45" y="269.70" width="2.02" height="9.10" fill="#2a629b" />
<rect x="45.97" y="269.70" width="2.02" height="9.10" fill="#2a629b" />
<rect x="48.50" y="269.70" width="2.02" height="9.10" fill="#2a629b" />
<rect x="51.02" y="269.70" width="2.02" height="9.10" fill="#2a629b" />
<rect x="53.55" y="269.70" width="2.02" height="9.10" fill="#2a629b" />
<rect x="56.08" y="269.70" width="2.02" height="9.10" fill="#2a629b" />
<rect x="58.60" y="269.70" width="2.02" height="9.10" fill="#2a629b" />
<rect x="61.12" y="269.70" width="2.02" height="9.10" fill="#2a629b" />
<rect x="63.65" y="269.70" width="2.02" height="9.10" fill="#2a629b" />
<rect x="66.17" y="269.70" width="2.02" height="9.10" fill="#2a629b" />
<rect x="68.70" y="269.70" width="2.02" height="9.10" fill="#2a629b" />
<rect x="71.22" y="269.70" width="2.02" height="9.10" fill="#2a629b" />
<rect x="73.75" y="269.70" width="2.02" height="9.10" fill="#2a629b" />
<rect x="76.27" y="269.70" width="2.02" height="9.10" fill="#2a629b" />
<rect x="78.80" y="269.70" width="2.02" height="9.10" fill="#2a629b" />
<rect x="81.33" y="269.70" width="2.02" height="9.10" fill="#2a629b" />
<rect x="83.85" y="269.70" width="2.02" height="9.10" fill="#2a629b" />
<rect x="86.38" y="269.70" width="2.02" height="9.10" fill="#2a629b" />
<rect x="88.90" y="269.70" width="2.02" height="9.10" fill="#2a629b" />
<rect x="91.42" y="269.70" width="2.02" height="9.10" fill="#2a629b" />
<path d="M19.90 269.70 V278.80 M22.42 269.70 V278.80 M24.95 269.70 V278.80 M27.47 269.70 V278.80 M30.00 269.70 V278.80 M32.52 269.70 V278.80 M35.05 269.70 V278.80 M37.58 269.70 V278.80 M40.10 269.70 V278.80 M42.62 269.70 V278.80 M45.15 269.70 V278.80 M47.67 269.70 V278.80 M50.20 269.70 V278.80 M52.72 269.70 V278.80 M55.25 269.70 V278.80 M57.78 269.70 V278.80 M60.30 269.70 V278.80 M62.83 269.70 V278.80 M65.35 269.70 V278.80 M67.88 269.70 V278.80 M70.40 269.70 V278.80 M72.92 269.70 V278.80 M75.45 269.70 V278.80 M77.97 269.70 V278.80 M80.50 269.70 V278.80 M83.03 269.70 V278.80 M85.55 269.70 V278.80 M88.08 269.70 V278.80 M90.60 269.70 V278.80 M93.12 269.70 V278.80" stroke="#173a62" stroke-width="0.6"/>
<rect x="18.20" y="279.78" width="2.02" height="9.10" fill="#2a629b" />
<rect x="93.95" y="279.78" width="2.02" height="9.10" fill="#2a629b" />
<rect x="96.47" y="279.78" width="2.02" height="9.10" fill="#2a629b" />
<rect x="99.00" y="279.78" width="2.02" height="9.10" fill="#2a629b" />
<rect x="101.53" y="279.78" width="2.02" height="9.10" fill="#2a629b" />
<rect x="104.05" y="279.78" width="2.02" height="9.10" fill="#2a629b" />
<rect x="106.58" y="279.78" width="2.02" height="9.10" fill="#2a629b" />
<rect x="109.10" y="279.78" width="2.02" height="9.10" fill="#2a629b" />
<rect x="111.62" y="279.78" width="2.02" height="9.10" fill="#2a629b" />
<rect x="114.15" y="279.78" width="2.02" height="9.10" fill="#2a629b" />
<rect x="116.67" y="279.78" width="2.02" height="9.10" fill="#2a629b" />
<rect x="119.20" y="279.78" width="2.02" height="9.10" fill="#2a629b" />
<rect x="121.72" y="279.78" width="2.02" height="9.10" fill="#2a629b" />
<rect x="124.25" y="279.78" width="2.02" height="9.10" fill="#2a629b" />
<rect x="126.78" y="279.78" width="2.02" height="9.10" fill="#2a629b" />
<path d="M19.90 279.78 V288.88 M95.65 279.78 V288.88 M98.17 279.78 V288.88 M100.70 279.78 V288.88 M103.23 279.78 V288.88 M105.75 279.78 V288.88 M108.28 279.78 V288.88 M110.80 279.78 V288.88 M113.33 279.78 V288.88 M115.85 279.78 V288.88 M118.38 279.78 V288.88 M120.90 279.78 V288.88 M123.42 279.78 V288.88 M125.95 279.78 V288.88 M128.47 279.78 V288.88" stroke="#173a62" stroke-width="0.6"/>
<rect x="20.72" y="289.86" width="2.02" height="9.10" fill="#2a629b" />
<rect x="129.30" y="289.86" width="2.02" height="9.10" fill="#2a629b" />
<rect x="131.82" y="289.86" width="2.02" height="9.10" fill="#2a629b" />
<rect x="134.35" y="289.86" width="2.02" height="9.10" fill="#2a629b" />
<rect x="136.88" y="289.86" width="2.02" height="9.10" fill="#2a629b" />
<rect x="139.40" y="289.86" width="2.02" height="9.10" fill="#2a629b" />
<rect x="141.92" y="289.86" width="2.02" height="9.10" fill="#2a629b" />
<rect x="144.45" y="289.86" width="2.02" height="9.10" fill="#2a629b" />
<rect x="146.97" y="289.86" width="2.02" height="9.10" fill="#2a629b" />
<rect x="149.50" y="289.86" width="2.02" height="9.10" fill="#2a629b" />
<rect x="152.02" y="289.86" width="2.02" height="9.10" fill="#2a629b" />
<rect x="154.55" y="289.86" width="2.02" height="9.10" fill="#2a629b" />
<rect x="157.07" y="289.86" width="2.02" height="9.10" fill="#2a629b" />
<path d="M22.42 289.86 V298.96 M131.00 289.86 V298.96 M133.52 289.86 V298.96 M136.05 289.86 V298.96 M138.57 289.86 V298.96 M141.10 289.86 V298.96 M143.62 289.86 V298.96 M146.15 289.86 V298.96 M148.67 289.86 V298.96 M151.20 289.86 V298.96 M153.72 289.86 V298.96 M156.25 289.86 V298.96 M158.77 289.86 V298.96" stroke="#173a62" stroke-width="0.6"/>
<rect x="159.60" y="299.94" width="2.02" height="9.10" fill="#2a629b" />
<rect x="162.12" y="299.94" width="2.02" height="9.10" fill="#2a629b" />
<rect x="164.65" y="299.94" width="2.02" height="9.10" fill="#2a629b" />
<rect x="167.17" y="299.94" width="2.02" height="9.10" fill="#2a629b" />
<rect x="169.70" y="299.94" width="2.02" height="9.10" fill="#2a629b" />
<rect x="172.22" y="299.94" width="2.02" height="9.10" fill="#2a629b" />
<rect x="174.75" y="299.94" width="2.02" height="9.10" fill="#2a629b" />
<rect x="177.27" y="299.94" width="2.02" height="9.10" fill="#2a629b" />
<rect x="179.80" y="299.94" width="2.02" height="9.10" fill="#2a629b" />
<rect x="182.32" y="299.94" width="2.02" height="9.10" fill="#2a629b" />
<rect x="184.85" y="299.94" width="2.02" height="9.10" fill="#2a629b" />
<rect x="187.37" y="299.94" width="2.02" height="9.10" fill="#2a629b" />
<path d="M161.30 299.94 V309.04 M163.82 299.94 V309.04 M166.35 299.94 V309.04 M168.87 299.94 V309.04 M171.40 299.94 V309.04 M173.92 299.94 V309.04 M176.45 299.94 V309.04 M178.97 299.94 V309.04 M181.50 299.94 V309.04 M184.02 299.94 V309.04 M186.55 299.94 V309.04 M189.07 299.94 V309.04" stroke="#173a62" stroke-width="0.6"/>
<rect x="18.20" y="310.02" width="2.02" height="9.10" fill="#2a629b" />
<rect x="23.25" y="310.02" width="2.02" height="9.10" fill="#2a629b" />
<rect x="25.77" y="310.02" width="2.02" height="9.10" fill="#2a629b" />
<rect x="28.30" y="310.02" width="2.02" height="9.10" fill="#2a629b" />
<rect x="93.95" y="310.02" width="2.02" height="9.10" fill="#2a629b" />
<rect x="96.47" y="310.02" width="2.02" height="9.10" fill="#2a629b" />
<rect x="99.00" y="310.02" width="2.02" height="9.10" fill="#2a629b" />
<rect x="159.60" y="310.02" width="2.02" height="9.10" fill="#2a629b" />
<rect x="189.90" y="310.02" width="2.02" height="9.10" fill="#2a629b" />
<rect x="192.42" y="310.02" width="2.02" height="9.10" fill="#2a629b" />
<rect x="194.95" y="310.02" width="2.02" height="9.10" fill="#2a629b" />
<rect x="197.47" y="310.02" width="2.02" height="9.10" fill="#2a629b" />
<path d="M19.90 310.02 V319.12 M24.95 310.02 V319.12 M27.47 310.02 V319.12 M30.00 310.02 V319.12 M95.65 310.02 V319.12 M98.17 310.02 V319.12 M100.70 310.02 V319.12 M161.30 310.02 V319.12 M191.60 310.02 V319.12 M194.12 310.02 V319.12 M196.65 310.02 V319.12 M199.17 310.02 V319.12" stroke="#173a62" stroke-width="0.6"/>
<rect x="23.25" y="320.10" width="2.02" height="9.10" fill="#2a629b" />
<rect x="101.53" y="320.10" width="2.02" height="9.10" fill="#2a629b" />
<rect x="104.05" y="320.10" width="2.02" height="9.10" fill="#2a629b" />
<rect x="106.58" y="320.10" width="2.02" height="9.10" fill="#2a629b" />
<rect x="162.12" y="320.10" width="2.02" height="9.10" fill="#2a629b" />
<rect x="200.00" y="320.10" width="2.02" height="9.10" fill="#2a629b" />
<rect x="202.52" y="320.10" width="2.02" height="9.10" fill="#2a629b" />
<rect x="205.05" y="320.10" width="2.02" height="9.10" fill="#2a629b" />
<path d="M24.95 320.10 V329.20 M103.23 320.10 V329.20 M105.75 320.10 V329.20 M108.28 320.10 V329.20 M163.82 320.10 V329.20 M201.70 320.10 V329.20 M204.22 320.10 V329.20 M206.75 320.10 V329.20" stroke="#173a62" stroke-width="0.6"/>
<rect x="109.10" y="330.18" width="2.02" height="9.10" fill="#2a629b" />
<rect x="111.62" y="330.18" width="2.02" height="9.10" fill="#2a629b" />
<rect x="129.30" y="330.18" width="2.02" height="9.10" fill="#2a629b" />
<rect x="200.00" y="330.18" width="2.02" height="9.10" fill="#2a629b" />
<rect x="207.57" y="330.18" width="2.02" height="9.10" fill="#2a629b" />
<rect x="210.10" y="330.18" width="2.02" height="9.10" fill="#2a629b" />
<rect x="212.62" y="330.18" width="2.02" height="9.10" fill="#2a629b" />
<rect x="215.15" y="330.18" width="2.02" height="9.10" fill="#2a629b" />
<path d="M110.80 330.18 V339.28 M113.33 330.18 V339.28 M131.00 330.18 V339.28 M201.70 330.18 V339.28 M209.27 330.18 V339.28 M211.80 330.18 V339.28 M214.32 330.18 V339.28 M216.85 330.18 V339.28" stroke="#173a62" stroke-width="0.6"/>
<rect x="18.20" y="340.70" width="2.52" height="5.20" fill="#e31a8b" />
<rect x="18.20" y="348.00" width="2.52" height="4.60" fill="#8d82c9" />
<rect x="18.20" y="354.40" width="2.52" height="4.60" fill="#e996a9" />
<rect x="20.72" y="340.70" width="2.52" height="5.20" fill="#cc0f34" />
<rect x="20.72" y="348.00" width="2.52" height="4.60" fill="#1e6a4f" />
<rect x="20.72" y="354.40" width="2.52" height="4.60" fill="#e996a9" />
<rect x="23.25" y="340.70" width="2.52" height="5.20" fill="#37af41" />
<rect x="23.25" y="348.00" width="2.52" height="4.60" fill="#8d82c9" />
<rect x="23.25" y="354.40" width="2.52" height="4.60" fill="#e996a9" />
<rect x="25.77" y="340.70" width="2.52" height="5.20" fill="#4a2070" />
<rect x="25.77" y="348.00" width="2.52" height="4.60" fill="#1e6a4f" />
<rect x="25.77" y="354.40" width="2.52" height="4.60" fill="#e996a9" />
<rect x="28.30" y="340.70" width="2.52" height="5.20" fill="#e31a8b" />
<rect x="28.30" y="348.00" width="2.52" height="4.60" fill="#8d82c9" />
<rect x="28.30" y="354.40" width="2.52" height="4.60" fill="#e996a9" />
<rect x="30.82" y="340.70" width="2.52" height="5.20" fill="#cc0f34" />
<rect x="30.82" y="348.00" width="2.52" height="4.60" fill="#8d82c9" />
<rect x="30.82" y="354.40" width="2.52" height="4.60" fill="#e996a9" />
<rect x="33.35" y="340.70" width="2.52" height="5.20" fill="#37af41" />
<rect x="33.35" y="348.00" width="2.52" height="4.60" fill="#1e6a4f" />
<rect x="33.35" y="354.40" width="2.52" height="4.60" fill="#e996a9" />
<rect x="35.88" y="340.70" width="2.52" height="5.20" fill="#e31a8b" />
<rect x="35.88" y="348.00" width="2.52" height="4.60" fill="#8d82c9" />
<rect x="35.88" y="354.40" width="2.52" height="4.60" fill="#d2e2bf" />
<rect x="38.40" y="340.70" width="2.52" height="5.20" fill="#e31a8b" />
<rect x="38.40" y="348.00" width="2.52" height="4.60" fill="#1e6a4f" />
<rect x="38.40" y="354.40" width="2.52" height="4.60" fill="#d2e2bf" />
<rect x="40.92" y="340.70" width="2.52" height="5.20" fill="#cc0f34" />
<rect x="40.92" y="348.00" width="2.52" height="4.60" fill="#1e6a4f" />
<rect x="40.92" y="354.40" width="2.52" height="4.60" fill="#d2e2bf" />
<rect x="43.45" y="340.70" width="2.52" height="5.20" fill="#cc0f34" />
<rect x="43.45" y="348.00" width="2.52" height="4.60" fill="#f4bd2a" />
<rect x="43.45" y="354.40" width="2.52" height="4.60" fill="#d2e2bf" />
<rect x="45.97" y="340.70" width="2.52" height="5.20" fill="#e31a8b" />
<rect x="45.97" y="348.00" width="2.52" height="4.60" fill="#8d82c9" />
<rect x="45.97" y="354.40" width="2.52" height="4.60" fill="#d2e2bf" />
<rect x="48.50" y="340.70" width="2.52" height="5.20" fill="#cc0f34" />
<rect x="48.50" y="348.00" width="2.52" height="4.60" fill="#8d82c9" />
<rect x="48.50" y="354.40" width="2.52" height="4.60" fill="#d2e2bf" />
<rect x="51.02" y="340.70" width="2.52" height="5.20" fill="#cc0f34" />
<rect x="51.02" y="348.00" width="2.52" height="4.60" fill="#1e6a4f" />
<rect x="51.02" y="354.40" width="2.52" height="4.60" fill="#d2e2bf" />
<rect x="53.55" y="340.70" width="2.52" height="5.20" fill="#165588" />
<rect x="53.55" y="348.00" width="2.52" height="4.60" fill="#f4bd2a" />
<rect x="53.55" y="354.40" width="2.52" height="4.60" fill="#d2e2bf" />
<rect x="56.08" y="340.70" width="2.52" height="5.20" fill="#e31a8b" />
<rect x="56.08" y="348.00" width="2.52" height="4.60" fill="#1e6a4f" />
<rect x="56.08" y="354.40" width="2.52" height="4.60" fill="#d2e2bf" />
<rect x="58.60" y="340.70" width="2.52" height="5.20" fill="#cc0f34" />
<rect x="58.60" y="348.00" width="2.52" height="4.60" fill="#8d82c9" />
<rect x="58.60" y="354.40" width="2.52" height="4.60" fill="#d2e2bf" />
<rect x="61.12" y="340.70" width="2.52" height="5.20" fill="#cc0f34" />
<rect x="61.12" y="348.00" width="2.52" height="4.60" fill="#8d82c9" />
<rect x="61.12" y="354.40" width="2.52" height="4.60" fill="#d2e2bf" />
<rect x="63.65" y="340.70" width="2.52" height="5.20" fill="#cc0f34" />
<rect x="63.65" y="348.00" width="2.52" height="4.60" fill="#1e6a4f" />
<rect x="63.65" y="354.40" width="2.52" height="4.60" fill="#e996a9" />
<rect x="66.17" y="340.70" width="2.52" height="5.20" fill="#e31a8b" />
<rect x="66.17" y="348.00" width="2.52" height="4.60" fill="#8d82c9" />
<rect x="66.17" y="354.40" width="2.52" height="4.60" fill="#e996a9" />
<rect x="68.70" y="340.70" width="2.52" height="5.20" fill="#4a2070" />
<rect x="68.70" y="348.00" width="2.52" height="4.60" fill="#f4bd2a" />
<rect x="68.70" y="354.40" width="2.52" height="4.60" fill="#e996a9" />
<rect x="71.22" y="340.70" width="2.52" height="5.20" fill="#165588" />
<rect x="71.22" y="348.00" width="2.52" height="4.60" fill="#1e6a4f" />
<rect x="71.22" y="354.40" width="2.52" height="4.60" fill="#e996a9" />
<rect x="73.75" y="340.70" width="2.52" height="5.20" fill="#e31a8b" />
<rect x="73.75" y="348.00" width="2.52" height="4.60" fill="#1e6a4f" />
<rect x="73.75" y="354.40" width="2.52" height="4.60" fill="#e996a9" />
<rect x="76.27" y="340.70" width="2.52" height="5.20" fill="#cc0f34" />
<rect x="76.27" y="348.00" width="2.52" height="4.60" fill="#1e6a4f" />
<rect x="76.27" y="354.40" width="2.52" height="4.60" fill="#e996a9" />
<rect x="78.80" y="340.70" width="2.52" height="5.20" fill="#e31a8b" />
<rect x="78.80" y="348.00" width="2.52" height="4.60" fill="#8d82c9" />
<rect x="78.80" y="354.40" width="2.52" height="4.60" fill="#e996a9" />
<rect x="81.33" y="340.70" width="2.52" height="5.20" fill="#cc0f34" />
<rect x="81.33" y="348.00" width="2.52" height="4.60" fill="#8d82c9" />
<rect x="81.33" y="354.40" width="2.52" height="4.60" fill="#e996a9" />
<rect x="83.85" y="340.70" width="2.52" height="5.20" fill="#e31a8b" />
<rect x="83.85" y="348.00" width="2.52" height="4.60" fill="#8d82c9" />
<rect x="83.85" y="354.40" width="2.52" height="4.60" fill="#d2e2bf" />
<rect x="86.38" y="340.70" width="2.52" height="5.20" fill="#165588" />
<rect x="86.38" y="348.00" width="2.52" height="4.60" fill="#1e6a4f" />
<rect x="86.38" y="354.40" width="2.52" height="4.60" fill="#d2e2bf" />
<rect x="88.90" y="340.70" width="2.52" height="5.20" fill="#cc0f34" />
<rect x="88.90" y="348.00" width="2.52" height="4.60" fill="#f4bd2a" />
<rect x="88.90" y="354.40" width="2.52" height="4.60" fill="#d2e2bf" />
<rect x="91.42" y="340.70" width="2.52" height="5.20" fill="#e31a8b" />
<rect x="91.42" y="348.00" width="2.52" height="4.60" fill="#f4bd2a" />
<rect x="91.42" y="354.40" width="2.52" height="4.60" fill="#e996a9" />
<rect x="93.95" y="340.70" width="2.52" height="5.20" fill="#cc0f34" />
<rect x="93.95" y="348.00" width="2.52" height="4.60" fill="#1e6a4f" />
<rect x="93.95" y="354.40" width="2.52" height="4.60" fill="#e996a9" />
<rect x="96.47" y="340.70" width="2.52" height="5.20" fill="#cc0f34" />
<rect x="96.47" y="348.00" width="2.52" height="4.60" fill="#1e6a4f" />
<rect x="96.47" y="354.40" width="2.52" height="4.60" fill="#e996a9" />
<rect x="99.00" y="340.70" width="2.52" height="5.20" fill="#37af41" />
<rect x="99.00" y="348.00" width="2.52" height="4.60" fill="#1e6a4f" />
<rect x="99.00" y="354.40" width="2.52" height="4.60" fill="#d2e2bf" />
<rect x="101.53" y="340.70" width="2.52" height="5.20" fill="#cc0f34" />
<rect x="101.53" y="348.00" width="2.52" height="4.60" fill="#1e6a4f" />
<rect x="101.53" y="354.40" width="2.52" height="4.60" fill="#e996a9" />
<rect x="104.05" y="340.70" width="2.52" height="5.20" fill="#cc0f34" />
<rect x="104.05" y="348.00" width="2.52" height="4.60" fill="#f4bd2a" />
<rect x="104.05" y="354.40" width="2.52" height="4.60" fill="#d2e2bf" />
<rect x="106.58" y="340.70" width="2.52" height="5.20" fill="#e31a8b" />
<rect x="106.58" y="348.00" width="2.52" height="4.60" fill="#8d82c9" />
<rect x="106.58" y="354.40" width="2.52" height="4.60" fill="#e996a9" />
<rect x="109.10" y="340.70" width="2.52" height="5.20" fill="#cc0f34" />
<rect x="109.10" y="348.00" width="2.52" height="4.60" fill="#1e6a4f" />
<rect x="109.10" y="354.40" width="2.52" height="4.60" fill="#d2e2bf" />
<rect x="111.62" y="340.70" width="2.52" height="5.20" fill="#37af41" />
<rect x="111.62" y="348.00" width="2.52" height="4.60" fill="#8d82c9" />
<rect x="111.62" y="354.40" width="2.52" height="4.60" fill="#d2e2bf" />
<rect x="114.15" y="340.70" width="2.52" height="5.20" fill="#cc0f34" />
<rect x="114.15" y="348.00" width="2.52" height="4.60" fill="#1e6a4f" />
<rect x="114.15" y="354.40" width="2.52" height="4.60" fill="#d2e2bf" />
<rect x="116.67" y="340.70" width="2.52" height="5.20" fill="#e31a8b" />
<rect x="116.67" y="348.00" width="2.52" height="4.60" fill="#8d82c9" />
<rect x="116.67" y="354.40" width="2.52" height="4.60" fill="#d2e2bf" />
<rect x="119.20" y="340.70" width="2.52" height="5.20" fill="#cc0f34" />
<rect x="119.20" y="348.00" width="2.52" height="4.60" fill="#8d82c9" />
<rect x="119.20" y="354.40" width="2.52" height="4.60" fill="#e996a9" />
<rect x="121.72" y="340.70" width="2.52" height="5.20" fill="#cc0f34" />
<rect x="121.72" y="348.00" width="2.52" height="4.60" fill="#1e6a4f" />
<rect x="121.72" y="354.40" width="2.52" height="4.60" fill="#e996a9" />
<rect x="124.25" y="340.70" width="2.52" height="5.20" fill="#cc0f34" />
<rect x="124.25" y="348.00" width="2.52" height="4.60" fill="#1e6a4f" />
<rect x="124.25" y="354.40" width="2.52" height="4.60" fill="#e996a9" />
<rect x="126.78" y="340.70" width="2.52" height="5.20" fill="#e31a8b" />
<rect x="126.78" y="348.00" width="2.52" height="4.60" fill="#8d82c9" />
<rect x="126.78" y="354.40" width="2.52" height="4.60" fill="#d2e2bf" />
<rect x="129.30" y="340.70" width="2.52" height="5.20" fill="#165588" />
<rect x="129.30" y="348.00" width="2.52" height="4.60" fill="#1e6a4f" />
<rect x="129.30" y="354.40" width="2.52" height="4.60" fill="#d2e2bf" />
<rect x="131.82" y="340.70" width="2.52" height="5.20" fill="#165588" />
<rect x="131.82" y="348.00" width="2.52" height="4.60" fill="#f4bd2a" />
<rect x="131.82" y="354.40" width="2.52" height="4.60" fill="#e996a9" />
<rect x="134.35" y="340.70" width="2.52" height="5.20" fill="#165588" />
<rect x="134.35" y="348.00" width="2.52" height="4.60" fill="#f4bd2a" />
<rect x="134.35" y="354.40" width="2.52" height="4.60" fill="#e996a9" />
<rect x="136.88" y="340.70" width="2.52" height="5.20" fill="#165588" />
<rect x="136.88" y="348.00" width="2.52" height="4.60" fill="#1e6a4f" />
<rect x="136.88" y="354.40" width="2.52" height="4.60" fill="#d2e2bf" />
<rect x="139.40" y="340.70" width="2.52" height="5.20" fill="#165588" />
<rect x="139.40" y="348.00" width="2.52" height="4.60" fill="#1e6a4f" />
<rect x="139.40" y="354.40" width="2.52" height="4.60" fill="#d2e2bf" />
<rect x="141.92" y="340.70" width="2.52" height="5.20" fill="#165588" />
<rect x="141.92" y="348.00" width="2.52" height="4.60" fill="#1e6a4f" />
<rect x="141.92" y="354.40" width="2.52" height="4.60" fill="#d2e2bf" />
<rect x="144.45" y="340.70" width="2.52" height="5.20" fill="#165588" />
<rect x="144.45" y="348.00" width="2.52" height="4.60" fill="#1e6a4f" />
<rect x="144.45" y="354.40" width="2.52" height="4.60" fill="#d2e2bf" />
<rect x="146.97" y="340.70" width="2.52" height="5.20" fill="#165588" />
<rect x="146.97" y="348.00" width="2.52" height="4.60" fill="#c2c0c9" />
<rect x="146.97" y="354.40" width="2.52" height="4.60" fill="#e996a9" />
<rect x="149.50" y="340.70" width="2.52" height="5.20" fill="#165588" />
<rect x="149.50" y="348.00" width="2.52" height="4.60" fill="#f4bd2a" />
<rect x="149.50" y="354.40" width="2.52" height="4.60" fill="#e996a9" />
<rect x="152.02" y="340.70" width="2.52" height="5.20" fill="#165588" />
<rect x="152.02" y="348.00" width="2.52" height="4.60" fill="#1e6a4f" />
<rect x="152.02" y="354.40" width="2.52" height="4.60" fill="#e996a9" />
<rect x="154.55" y="340.70" width="2.52" height="5.20" fill="#165588" />
<rect x="154.55" y="348.00" width="2.52" height="4.60" fill="#1e6a4f" />
<rect x="154.55" y="354.40" width="2.52" height="4.60" fill="#e996a9" />
<rect x="157.07" y="340.70" width="2.52" height="5.20" fill="#165588" />
<rect x="157.07" y="348.00" width="2.52" height="4.60" fill="#f4bd2a" />
<rect x="157.07" y="354.40" width="2.52" height="4.60" fill="#e996a9" />
<rect x="159.60" y="340.70" width="2.52" height="5.20" fill="#23a5e1" />
<rect x="159.60" y="348.00" width="2.52" height="4.60" fill="#e8892b" />
<rect x="159.60" y="354.40" width="2.52" height="4.60" fill="#e996a9" />
<rect x="162.12" y="340.70" width="2.52" height="5.20" fill="#23a5e1" />
<rect x="162.12" y="348.00" width="2.52" height="4.60" fill="#e8892b" />
<rect x="162.12" y="354.40" width="2.52" height="4.60" fill="#e996a9" />
<rect x="164.65" y="340.70" width="2.52" height="5.20" fill="#37af41" />
<rect x="164.65" y="348.00" width="2.52" height="4.60" fill="#8d82c9" />
<rect x="164.65" y="354.40" width="2.52" height="4.60" fill="#e996a9" />
<rect x="167.17" y="340.70" width="2.52" height="5.20" fill="#23a5e1" />
<rect x="167.17" y="348.00" width="2.52" height="4.60" fill="#e8892b" />
<rect x="167.17" y="354.40" width="2.52" height="4.60" fill="#e996a9" />
<rect x="169.70" y="340.70" width="2.52" height="5.20" fill="#165588" />
<rect x="169.70" y="348.00" width="2.52" height="4.60" fill="#8d82c9" />
<rect x="169.70" y="354.40" width="2.52" height="4.60" fill="#e996a9" />
<rect x="172.22" y="340.70" width="2.52" height="5.20" fill="#23a5e1" />
<rect x="172.22" y="348.00" width="2.52" height="4.60" fill="#e8892b" />
<rect x="172.22" y="354.40" width="2.52" height="4.60" fill="#e996a9" />
<rect x="174.75" y="340.70" width="2.52" height="5.20" fill="#165588" />
<rect x="174.75" y="348.00" width="2.52" height="4.60" fill="#1e6a4f" />
<rect x="174.75" y="354.40" width="2.52" height="4.60" fill="#d2e2bf" />
<rect x="177.27" y="340.70" width="2.52" height="5.20" fill="#23a5e1" />
<rect x="177.27" y="348.00" width="2.52" height="4.60" fill="#e8892b" />
<rect x="177.27" y="354.40" width="2.52" height="4.60" fill="#d2e2bf" />
<rect x="179.80" y="340.70" width="2.52" height="5.20" fill="#23a5e1" />
<rect x="179.80" y="348.00" width="2.52" height="4.60" fill="#f4bd2a" />
<rect x="179.80" y="354.40" width="2.52" height="4.60" fill="#d2e2bf" />
<rect x="182.32" y="340.70" width="2.52" height="5.20" fill="#cc0f34" />
<rect x="182.32" y="348.00" width="2.52" height="4.60" fill="#f4bd2a" />
<rect x="182.32" y="354.40" width="2.52" height="4.60" fill="#d2e2bf" />
<rect x="184.85" y="340.70" width="2.52" height="5.20" fill="#23a5e1" />
<rect x="184.85" y="348.00" width="2.52" height="4.60" fill="#e8892b" />
<rect x="184.85" y="354.40" width="2.52" height="4.60" fill="#d2e2bf" />
<rect x="187.37" y="340.70" width="2.52" height="5.20" fill="#37af41" />
<rect x="187.37" y="348.00" width="2.52" height="4.60" fill="#8d82c9" />
<rect x="187.37" y="354.40" width="2.52" height="4.60" fill="#e996a9" />
<rect x="189.90" y="340.70" width="2.52" height="5.20" fill="#23a5e1" />
<rect x="189.90" y="348.00" width="2.52" height="4.60" fill="#1e6a4f" />
<rect x="189.90" y="354.40" width="2.52" height="4.60" fill="#e996a9" />
<rect x="192.42" y="340.70" width="2.52" height="5.20" fill="#23a5e1" />
<rect x="192.42" y="348.00" width="2.52" height="4.60" fill="#e8892b" />
<rect x="192.42" y="354.40" width="2.52" height="4.60" fill="#e996a9" />
<rect x="194.95" y="340.70" width="2.52" height="5.20" fill="#165588" />
<rect x="194.95" y="348.00" width="2.52" height="4.60" fill="#1e6a4f" />
<rect x="194.95" y="354.40" width="2.52" height="4.60" fill="#e996a9" />
<rect x="197.47" y="340.70" width="2.52" height="5.20" fill="#4a2070" />
<rect x="197.47" y="348.00" width="2.52" height="4.60" fill="#8d82c9" />
<rect x="197.47" y="354.40" width="2.52" height="4.60" fill="#e996a9" />
<rect x="200.00" y="340.70" width="2.52" height="5.20" fill="#37af41" />
<rect x="200.00" y="348.00" width="2.52" height="4.60" fill="#8d82c9" />
<rect x="200.00" y="354.40" width="2.52" height="4.60" fill="#d2e2bf" />
<rect x="202.52" y="340.70" width="2.52" height="5.20" fill="#37af41" />
<rect x="202.52" y="348.00" width="2.52" height="4.60" fill="#8d82c9" />
<rect x="202.52" y="354.40" width="2.52" height="4.60" fill="#d2e2bf" />
<rect x="205.05" y="340.70" width="2.52" height="5.20" fill="#37af41" />
<rect x="205.05" y="348.00" width="2.52" height="4.60" fill="#8d82c9" />
<rect x="205.05" y="354.40" width="2.52" height="4.60" fill="#e996a9" />
<rect x="207.57" y="340.70" width="2.52" height="5.20" fill="#37af41" />
<rect x="207.57" y="348.00" width="2.52" height="4.60" fill="#8d82c9" />
<rect x="207.57" y="354.40" width="2.52" height="4.60" fill="#e996a9" />
<rect x="210.10" y="340.70" width="2.52" height="5.20" fill="#37af41" />
<rect x="210.10" y="348.00" width="2.52" height="4.60" fill="#1e6a4f" />
<rect x="210.10" y="354.40" width="2.52" height="4.60" fill="#e996a9" />
<rect x="212.62" y="340.70" width="2.52" height="5.20" fill="#23a5e1" />
<rect x="212.62" y="348.00" width="2.52" height="4.60" fill="#e8892b" />
<rect x="212.62" y="354.40" width="2.52" height="4.60" fill="#e996a9" />
<rect x="215.15" y="340.70" width="2.52" height="5.20" fill="#23a5e1" />
<rect x="215.15" y="348.00" width="2.52" height="4.60" fill="#e8892b" />
<rect x="215.15" y="354.40" width="2.52" height="4.60" fill="#e996a9" />
<rect x="217.67" y="340.70" width="2.52" height="5.20" fill="#37af41" />
<rect x="217.67" y="348.00" width="2.52" height="4.60" fill="#8d82c9" />
<rect x="217.67" y="354.40" width="2.52" height="4.60" fill="#e996a9" />
<rect x="220.20" y="340.70" width="2.52" height="5.20" fill="#37af41" />
<rect x="220.20" y="348.00" width="2.52" height="4.60" fill="#8d82c9" />
<rect x="220.20" y="354.40" width="2.52" height="4.60" fill="#e996a9" />
<rect x="222.72" y="340.70" width="2.52" height="5.20" fill="#23a5e1" />
<rect x="222.72" y="348.00" width="2.52" height="4.60" fill="#e8892b" />
<rect x="222.72" y="354.40" width="2.52" height="4.60" fill="#e996a9" />
<rect x="225.25" y="340.70" width="2.52" height="5.20" fill="#23a5e1" />
<rect x="225.25" y="348.00" width="2.52" height="4.60" fill="#8d82c9" />
<rect x="225.25" y="354.40" width="2.52" height="4.60" fill="#e996a9" />
<rect x="227.77" y="340.70" width="2.52" height="5.20" fill="#cc0f34" />
<rect x="227.77" y="348.00" width="2.52" height="4.60" fill="#1e6a4f" />
<rect x="227.77" y="354.40" width="2.52" height="4.60" fill="#d2e2bf" />
<rect x="230.30" y="340.70" width="2.52" height="5.20" fill="#cc0f34" />
<rect x="230.30" y="348.00" width="2.52" height="4.60" fill="#1e6a4f" />
<rect x="230.30" y="354.40" width="2.52" height="4.60" fill="#d2e2bf" />
<rect x="232.82" y="340.70" width="2.52" height="5.20" fill="#4a2070" />
<rect x="232.82" y="348.00" width="2.52" height="4.60" fill="#8d82c9" />
<rect x="232.82" y="354.40" width="2.52" height="4.60" fill="#d2e2bf" />
<rect x="235.35" y="340.70" width="2.52" height="5.20" fill="#37af41" />
<rect x="235.35" y="348.00" width="2.52" height="4.60" fill="#8d82c9" />
<rect x="235.35" y="354.40" width="2.52" height="4.60" fill="#d2e2bf" />
<rect x="237.87" y="340.70" width="2.52" height="5.20" fill="#165588" />
<rect x="237.87" y="348.00" width="2.52" height="4.60" fill="#1e6a4f" />
<rect x="237.87" y="354.40" width="2.52" height="4.60" fill="#d2e2bf" />
<rect x="240.40" y="340.70" width="2.52" height="5.20" fill="#37af41" />
<rect x="240.40" y="348.00" width="2.52" height="4.60" fill="#8d82c9" />
<rect x="240.40" y="354.40" width="2.52" height="4.60" fill="#d2e2bf" />
<rect x="242.92" y="340.70" width="2.52" height="5.20" fill="#37af41" />
<rect x="242.92" y="348.00" width="2.52" height="4.60" fill="#1e6a4f" />
<rect x="242.92" y="354.40" width="2.52" height="4.60" fill="#d2e2bf" />
<rect x="245.45" y="340.70" width="2.52" height="5.20" fill="#165588" />
<rect x="245.45" y="348.00" width="2.52" height="4.60" fill="#1e6a4f" />
<rect x="245.45" y="354.40" width="2.52" height="4.60" fill="#d2e2bf" />
<rect x="247.97" y="340.70" width="2.52" height="5.20" fill="#23a5e1" />
<rect x="247.97" y="348.00" width="2.52" height="4.60" fill="#e8892b" />
<rect x="247.97" y="354.40" width="2.52" height="4.60" fill="#d2e2bf" />
<rect x="250.50" y="340.70" width="2.52" height="5.20" fill="#37af41" />
<rect x="250.50" y="348.00" width="2.52" height="4.60" fill="#8d82c9" />
<rect x="250.50" y="354.40" width="2.52" height="4.60" fill="#d2e2bf" />
<rect x="253.02" y="340.70" width="2.52" height="5.20" fill="#cc0f34" />
<rect x="253.02" y="348.00" width="2.52" height="4.60" fill="#f4bd2a" />
<rect x="253.02" y="354.40" width="2.52" height="4.60" fill="#d2e2bf" />
<rect x="255.55" y="340.70" width="2.52" height="5.20" fill="#37af41" />
<rect x="255.55" y="348.00" width="2.52" height="4.60" fill="#8d82c9" />
<rect x="255.55" y="354.40" width="2.52" height="4.60" fill="#d2e2bf" />
<rect x="258.07" y="340.70" width="2.52" height="5.20" fill="#165588" />
<rect x="258.07" y="348.00" width="2.52" height="4.60" fill="#1e6a4f" />
<rect x="258.07" y="354.40" width="2.52" height="4.60" fill="#d2e2bf" />
<rect x="260.60" y="340.70" width="2.52" height="5.20" fill="#23a5e1" />
<rect x="260.60" y="348.00" width="2.52" height="4.60" fill="#8d82c9" />
<rect x="260.60" y="354.40" width="2.52" height="4.60" fill="#d2e2bf" />
<rect x="263.12" y="340.70" width="2.52" height="5.20" fill="#cc0f34" />
<rect x="263.12" y="348.00" width="2.52" height="4.60" fill="#f4bd2a" />
<rect x="263.12" y="354.40" width="2.52" height="4.60" fill="#d2e2bf" />
<rect x="265.65" y="340.70" width="2.52" height="5.20" fill="#37af41" />
<rect x="265.65" y="348.00" width="2.52" height="4.60" fill="#8d82c9" />
<rect x="265.65" y="354.40" width="2.52" height="4.60" fill="#d2e2bf" />
<rect x="268.18" y="340.70" width="2.52" height="5.20" fill="#23a5e1" />
<rect x="268.18" y="348.00" width="2.52" height="4.60" fill="#1e6a4f" />
<rect x="268.18" y="354.40" width="2.52" height="4.60" fill="#e996a9" />
<rect x="270.70" y="340.70" width="2.52" height="5.20" fill="#165588" />
<rect x="270.70" y="348.00" width="2.52" height="4.60" fill="#1e6a4f" />
<rect x="270.70" y="354.40" width="2.52" height="4.60" fill="#e996a9" />
<rect x="273.22" y="340.70" width="2.52" height="5.20" fill="#37af41" />
<rect x="273.22" y="348.00" width="2.52" height="4.60" fill="#8d82c9" />
<rect x="273.22" y="354.40" width="2.52" height="4.60" fill="#e996a9" />
<rect x="275.75" y="340.70" width="2.52" height="5.20" fill="#4a2070" />
<rect x="275.75" y="348.00" width="2.52" height="4.60" fill="#1e6a4f" />
<rect x="275.75" y="354.40" width="2.52" height="4.60" fill="#e996a9" />
<rect x="278.27" y="340.70" width="2.52" height="5.20" fill="#4a2070" />
<rect x="278.27" y="348.00" width="2.52" height="4.60" fill="#1e6a4f" />
<rect x="278.27" y="354.40" width="2.52" height="4.60" fill="#d2e2bf" />
<path d="M20.47 340.5 V359.2 M23.00 340.5 V359.2 M25.52 340.5 V359.2 M28.05 340.5 V359.2 M30.57 340.5 V359.2 M33.10 340.5 V359.2 M35.62 340.5 V359.2 M38.15 340.5 V359.2 M40.67 340.5 V359.2 M43.20 340.5 V359.2 M45.72 340.5 V359.2 M48.25 340.5 V359.2 M50.77 340.5 V359.2 M53.30 340.5 V359.2 M55.83 340.5 V359.2 M58.35 340.5 V359.2 M60.88 340.5 V359.2 M63.40 340.5 V359.2 M65.92 340.5 V359.2 M68.45 340.5 V359.2 M70.97 340.5 V359.2 M73.50 340.5 V359.2 M76.02 340.5 V359.2 M78.55 340.5 V359.2 M81.08 340.5 V359.2 M83.60 340.5 V359.2 M86.12 340.5 V359.2 M88.65 340.5 V359.2 M91.17 340.5 V359.2 M93.70 340.5 V359.2 M96.22 340.5 V359.2 M98.75 340.5 V359.2 M101.28 340.5 V359.2 M103.80 340.5 V359.2 M106.33 340.5 V359.2 M108.85 340.5 V359.2 M111.38 340.5 V359.2 M113.90 340.5 V359.2 M116.42 340.5 V359.2 M118.95 340.5 V359.2 M121.47 340.5 V359.2 M124.00 340.5 V359.2 M126.53 340.5 V359.2 M129.05 340.5 V359.2 M131.57 340.5 V359.2 M134.10 340.5 V359.2 M136.62 340.5 V359.2 M139.15 340.5 V359.2 M141.67 340.5 V359.2 M144.20 340.5 V359.2 M146.72 340.5 V359.2 M149.25 340.5 V359.2 M151.77 340.5 V359.2 M154.30 340.5 V359.2 M156.82 340.5 V359.2 M159.35 340.5 V359.2 M161.87 340.5 V359.2 M164.40 340.5 V359.2 M166.92 340.5 V359.2 M169.45 340.5 V359.2 M171.97 340.5 V359.2 M174.50 340.5 V359.2 M177.02 340.5 V359.2 M179.55 340.5 V359.2 M182.07 340.5 V359.2 M184.60 340.5 V359.2 M187.12 340.5 V359.2 M189.65 340.5 V359.2 M192.17 340.5 V359.2 M194.70 340.5 V359.2 M197.22 340.5 V359.2 M199.75 340.5 V359.2 M202.27 340.5 V359.2 M204.80 340.5 V359.2 M207.32 340.5 V359.2 M209.85 340.5 V359.2 M212.37 340.5 V359.2 M214.90 340.5 V359.2 M217.42 340.5 V359.2 M219.95 340.5 V359.2 M222.47 340.5 V359.2 M225.00 340.5 V359.2 M227.52 340.5 V359.2 M230.05 340.5 V359.2 M232.57 340.5 V359.2 M235.10 340.5 V359.2 M237.62 340.5 V359.2 M240.15 340.5 V359.2 M242.67 340.5 V359.2 M245.20 340.5 V359.2 M247.72 340.5 V359.2 M250.25 340.5 V359.2 M252.77 340.5 V359.2 M255.30 340.5 V359.2 M257.82 340.5 V359.2 M260.35 340.5 V359.2 M262.88 340.5 V359.2 M265.40 340.5 V359.2 M267.93 340.5 V359.2 M270.45 340.5 V359.2 M272.97 340.5 V359.2 M275.50 340.5 V359.2 M278.02 340.5 V359.2" stroke="#fff" stroke-width="0.5" opacity="0.8"/>
<text x="284.80" y="276.20" font-size="6.50" fill="#222" stroke="#222" stroke-width="0.16" font-style="italic">Pax5</text>
<text x="284.80" y="286.28" font-size="6.50" fill="#222" stroke="#222" stroke-width="0.16" font-style="italic">Kmt2d</text>
<text x="284.80" y="296.36" font-size="6.50" fill="#222" stroke="#222" stroke-width="0.16" font-style="italic">Zc3h12a</text>
<text x="284.80" y="306.44" font-size="6.50" fill="#222" stroke="#222" stroke-width="0.16" font-style="italic">Socs1</text>
<text x="284.80" y="316.52" font-size="6.50" fill="#222" stroke="#222" stroke-width="0.16" font-style="italic">Trp53</text>
<text x="284.80" y="326.60" font-size="6.50" fill="#222" stroke="#222" stroke-width="0.16">Cdkn2a</text>
<text x="284.80" y="336.68" font-size="6.50" fill="#222" stroke="#222" stroke-width="0.16" font-style="italic">Irf2bp2</text>
<text x="284.80" y="345.20" font-size="6.00" fill="#222" stroke="#222" stroke-width="0.16" textLength="34.70" lengthAdjust="spacingAndGlyphs">Disease type</text>
<text x="284.80" y="351.60" font-size="6.30" fill="#222" stroke="#222" stroke-width="0.16">Organ</text>
<text x="284.80" y="357.80" font-size="6.30" fill="#222" stroke="#222" stroke-width="0.16">Pool</text>
<line x1="326.30" y1="267.90" x2="362.10" y2="267.90" stroke="#222" stroke-width="0.90" />
<line x1="326.30" y1="267.50" x2="326.30" y2="338.60" stroke="#111" stroke-width="1.30" />
<line x1="326.30" y1="265.40" x2="326.30" y2="267.90" stroke="#222" stroke-width="0.80" />
<text x="326.30" y="261.30" font-size="6.20" text-anchor="middle" fill="#222" stroke="#222" stroke-width="0.16">0</text>
<line x1="337.45" y1="265.40" x2="337.45" y2="267.90" stroke="#222" stroke-width="0.80" />
<text x="337.45" y="261.30" font-size="6.20" text-anchor="middle" fill="#222" stroke="#222" stroke-width="0.16">10</text>
<line x1="348.60" y1="265.40" x2="348.60" y2="267.90" stroke="#222" stroke-width="0.80" />
<text x="348.60" y="261.30" font-size="6.20" text-anchor="middle" fill="#222" stroke="#222" stroke-width="0.16">20</text>
<line x1="359.75" y1="265.40" x2="359.75" y2="267.90" stroke="#222" stroke-width="0.80" />
<text x="359.75" y="261.30" font-size="6.20" text-anchor="middle" fill="#222" stroke="#222" stroke-width="0.16">30</text>
<text x="332.70" y="252.10" font-size="7.00" fill="#222" stroke="#222" stroke-width="0.20" textLength="10.30" lengthAdjust="spacingAndGlyphs">-log</text>
<text x="343.30" y="253.90" font-size="4.80" fill="#222" stroke="#222" stroke-width="0.15" textLength="4.20" lengthAdjust="spacingAndGlyphs">10</text>
<text x="347.70" y="252.10" font-size="7.00" fill="#222" stroke="#222" stroke-width="0.20" textLength="8.30" lengthAdjust="spacingAndGlyphs">(<tspan font-style="italic">q</tspan>)</text>
<rect x="326.80" y="270.30" width="26.90" height="8.30" fill="#c7c7cc" />
<rect x="326.80" y="280.38" width="8.00" height="8.30" fill="#c7c7cc" />
<rect x="326.80" y="290.46" width="6.00" height="8.30" fill="#c7c7cc" />
<rect x="326.80" y="300.54" width="4.90" height="8.30" fill="#c7c7cc" />
<rect x="326.80" y="310.62" width="10.40" height="8.30" fill="#c7c7cc" />
<rect x="326.80" y="320.70" width="1.80" height="8.30" fill="#c7c7cc" />
<rect x="326.80" y="330.78" width="1.80" height="8.30" fill="#c7c7cc" />
<text x="372.10" y="252.70" font-size="6.10" fill="#222" stroke="#222" stroke-width="0.16" textLength="35.30" lengthAdjust="spacingAndGlyphs">Disease type</text>
<rect x="372.10" y="258.75" width="5.90" height="5.90" fill="#cc0f34" />
<text x="381.50" y="263.70" font-size="6.10" fill="#222" stroke="#222" stroke-width="0.16">B-lymphoma</text>
<rect x="425.20" y="258.75" width="5.90" height="5.90" fill="#e31a8b" />
<text x="434.60" y="263.70" font-size="6.10" fill="#222" stroke="#222" stroke-width="0.16">B-ALL/LBL</text>
<rect x="372.10" y="268.65" width="5.90" height="5.90" fill="#165588" />
<text x="381.50" y="273.60" font-size="6.10" fill="#222" stroke="#222" stroke-width="0.16">T-lymphoma</text>
<rect x="425.20" y="268.65" width="5.90" height="5.90" fill="#23a5e1" />
<text x="434.60" y="273.60" font-size="6.10" fill="#222" stroke="#222" stroke-width="0.16">T-ALL/LBL</text>
<rect x="372.10" y="278.35" width="5.90" height="5.90" fill="#37af41" />
<text x="381.50" y="283.30" font-size="6.10" fill="#222" stroke="#222" stroke-width="0.16">AML</text>
<rect x="425.20" y="278.35" width="5.90" height="5.90" fill="#4a2070" />
<text x="434.60" y="283.30" font-size="6.10" fill="#222" stroke="#222" stroke-width="0.16">AUL</text>
<text x="372.10" y="295.10" font-size="6.10" fill="#222" stroke="#222" stroke-width="0.16">Organ</text>
<rect x="372.10" y="301.60" width="5.60" height="5.40" fill="#8d82c9" />
<text x="381.50" y="306.30" font-size="6.10" fill="#222" stroke="#222" stroke-width="0.16">Bone marrow</text>
<rect x="425.20" y="301.60" width="5.60" height="5.40" fill="#e8892b" />
<text x="434.60" y="306.30" font-size="6.10" fill="#222" stroke="#222" stroke-width="0.16">Thymus</text>
<rect x="372.10" y="311.30" width="5.60" height="5.40" fill="#f4bd2a" />
<text x="381.50" y="316.00" font-size="6.10" fill="#222" stroke="#222" stroke-width="0.16">Lymph node</text>
<rect x="425.20" y="311.30" width="5.60" height="5.40" fill="#c2c0c9" />
<text x="434.60" y="316.00" font-size="6.10" fill="#222" stroke="#222" stroke-width="0.16">Others</text>
<rect x="372.10" y="321.40" width="5.60" height="5.40" fill="#1e6a4f" />
<text x="381.50" y="326.10" font-size="6.10" fill="#222" stroke="#222" stroke-width="0.16">Spleen</text>
<text x="372.10" y="337.90" font-size="6.10" fill="#222" stroke="#222" stroke-width="0.16">Pool</text>
<rect x="372.10" y="344.00" width="5.60" height="5.30" fill="#e996a9" />
<text x="381.50" y="348.60" font-size="6.10" fill="#222" stroke="#222" stroke-width="0.16">A</text>
<rect x="372.10" y="354.10" width="5.60" height="5.30" fill="#d2e2bf" />
<text x="381.50" y="358.70" font-size="6.10" fill="#222" stroke="#222" stroke-width="0.16">B</text>
<text x="7.20" y="381.70" font-size="11.00" fill="#111" font-weight="bold" stroke="#111" stroke-width="0.55">F</text>
<line x1="45.30" y1="379.10" x2="45.30" y2="457.60" stroke="#111" stroke-width="1.00" />
<line x1="42.00" y1="457.10" x2="45.30" y2="457.10" stroke="#111" stroke-width="0.90" />
<text x="39.10" y="459.40" font-size="6.50" text-anchor="end" fill="#333" stroke="#333" stroke-width="0.10">0</text>
<line x1="42.00" y1="435.67" x2="45.30" y2="435.67" stroke="#111" stroke-width="0.90" />
<text x="39.10" y="437.97" font-size="6.50" text-anchor="end" fill="#333" stroke="#333" stroke-width="0.10">10</text>
<line x1="42.00" y1="414.24" x2="45.30" y2="414.24" stroke="#111" stroke-width="0.90" />
<text x="39.10" y="416.54" font-size="6.50" text-anchor="end" fill="#333" stroke="#333" stroke-width="0.10">20</text>
<line x1="42.00" y1="392.81" x2="45.30" y2="392.81" stroke="#111" stroke-width="0.90" />
<text x="39.10" y="395.11" font-size="6.50" text-anchor="end" fill="#333" stroke="#333" stroke-width="0.10">30</text>
<text x="0" y="0" font-size="7.60" text-anchor="middle" fill="#222" stroke="#222" stroke-width="0.15" font-weight="bold" textLength="51.40" lengthAdjust="spacingAndGlyphs" transform="translate(25.80 414.40) rotate(-90)">Number of samples</text>
<rect x="47.00" y="392.81" width="6.90" height="64.29" fill="#643d17" />
<text x="50.45" y="391.61" font-size="5.00" text-anchor="middle" fill="#222" stroke="#222" stroke-width="0.16">*</text>
<rect x="54.72" y="424.96" width="6.90" height="32.14" fill="#643d17" />
<text x="58.17" y="423.76" font-size="5.00" text-anchor="middle" fill="#222" stroke="#222" stroke-width="0.16">*</text>
<rect x="62.44" y="429.24" width="6.90" height="27.86" fill="#643d17" />
<text x="65.89" y="428.04" font-size="5.00" text-anchor="middle" fill="#222" stroke="#222" stroke-width="0.16">*</text>
<rect x="70.16" y="431.38" width="6.90" height="25.72" fill="#643d17" />
<text x="73.61" y="430.18" font-size="5.00" text-anchor="middle" fill="#222" stroke="#222" stroke-width="0.16">*</text>
<rect x="77.88" y="431.38" width="6.90" height="25.72" fill="#643d17" />
<text x="81.33" y="430.18" font-size="5.00" text-anchor="middle" fill="#222" stroke="#222" stroke-width="0.16">*</text>
<rect x="85.60" y="439.96" width="6.90" height="17.14" fill="#643d17" />
<text x="89.05" y="438.76" font-size="5.00" text-anchor="middle" fill="#222" stroke="#222" stroke-width="0.16">*</text>
<rect x="93.32" y="439.96" width="6.90" height="17.14" fill="#643d17" />
<text x="96.77" y="438.76" font-size="5.00" text-anchor="middle" fill="#222" stroke="#222" stroke-width="0.16">*</text>
<rect x="101.04" y="442.10" width="6.90" height="15.00" fill="#c6c6cc" />
<rect x="108.76" y="442.10" width="6.90" height="15.00" fill="#c6c6cc" />
<rect x="116.48" y="444.24" width="6.90" height="12.86" fill="#c6c6cc" />
<rect x="124.20" y="444.24" width="6.90" height="12.86" fill="#c6c6cc" />
<rect x="131.92" y="444.24" width="6.90" height="12.86" fill="#c6c6cc" />
<rect x="139.64" y="444.24" width="6.90" height="12.86" fill="#c6c6cc" />
<rect x="147.36" y="444.24" width="6.90" height="12.86" fill="#c6c6cc" />
<rect x="155.08" y="446.39" width="6.90" height="10.71" fill="#c6c6cc" />
<rect x="162.80" y="446.39" width="6.90" height="10.71" fill="#c6c6cc" />
<rect x="170.52" y="446.39" width="6.90" height="10.71" fill="#c6c6cc" />
<rect x="178.24" y="446.39" width="6.90" height="10.71" fill="#c6c6cc" />
<rect x="185.96" y="446.39" width="6.90" height="10.71" fill="#c6c6cc" />
<rect x="193.68" y="446.39" width="6.90" height="10.71" fill="#c6c6cc" />
<rect x="201.40" y="446.39" width="6.90" height="10.71" fill="#c6c6cc" />
<rect x="209.12" y="446.39" width="6.90" height="10.71" fill="#c6c6cc" />
<rect x="216.84" y="446.39" width="6.90" height="10.71" fill="#c6c6cc" />
<rect x="224.56" y="446.39" width="6.90" height="10.71" fill="#c6c6cc" />
<line x1="44.80" y1="457.10" x2="233.00" y2="457.10" stroke="#111" stroke-width="1.10" />
<text x="139.10" y="379.20" font-size="8.45" text-anchor="middle" fill="#222" stroke="#222" stroke-width="0.06">All samples (n = 104)</text>
<rect x="199.90" y="383.30" width="5.80" height="5.80" fill="#643d17" />
<text x="208.80" y="388.10" font-size="5.80" fill="#222" stroke="#222" stroke-width="0.10" textLength="22.20" lengthAdjust="spacingAndGlyphs"><tspan font-style="italic">q</tspan> &lt; 0.01</text>
<text x="7.20" y="483.50" font-size="11.00" fill="#111" font-weight="bold" stroke="#111" stroke-width="0.55">G</text>
<line x1="45.30" y1="481.00" x2="45.30" y2="558.90" stroke="#111" stroke-width="1.00" />
<line x1="42.00" y1="558.40" x2="45.30" y2="558.40" stroke="#111" stroke-width="0.90" />
<text x="39.10" y="560.70" font-size="6.50" text-anchor="end" fill="#333" stroke="#333" stroke-width="0.10">0</text>
<line x1="42.00" y1="543.48" x2="45.30" y2="543.48" stroke="#111" stroke-width="0.90" />
<text x="39.10" y="545.78" font-size="6.50" text-anchor="end" fill="#333" stroke="#333" stroke-width="0.10">5</text>
<line x1="42.00" y1="528.56" x2="45.30" y2="528.56" stroke="#111" stroke-width="0.90" />
<text x="39.10" y="530.86" font-size="6.50" text-anchor="end" fill="#333" stroke="#333" stroke-width="0.10">10</text>
<line x1="42.00" y1="513.64" x2="45.30" y2="513.64" stroke="#111" stroke-width="0.90" />
<text x="39.10" y="515.94" font-size="6.50" text-anchor="end" fill="#333" stroke="#333" stroke-width="0.10">15</text>
<line x1="42.00" y1="498.72" x2="45.30" y2="498.72" stroke="#111" stroke-width="0.90" />
<text x="39.10" y="501.02" font-size="6.50" text-anchor="end" fill="#333" stroke="#333" stroke-width="0.10">20</text>
<line x1="42.00" y1="483.80" x2="45.30" y2="483.80" stroke="#111" stroke-width="0.90" />
<text x="39.10" y="486.10" font-size="6.50" text-anchor="end" fill="#333" stroke="#333" stroke-width="0.10">25</text>
<text x="0" y="0" font-size="7.60" text-anchor="middle" fill="#222" stroke="#222" stroke-width="0.15" font-weight="bold" textLength="51.40" lengthAdjust="spacingAndGlyphs" transform="translate(26.40 519.60) rotate(-90)">Number of samples</text>
<rect x="47.00" y="546.46" width="6.90" height="11.94" fill="#c81432" />
<text x="50.45" y="545.26" font-size="5.00" text-anchor="middle" fill="#222" stroke="#222" stroke-width="0.16">*</text>
<rect x="54.72" y="525.58" width="6.90" height="32.82" fill="#c81432" />
<text x="58.17" y="524.38" font-size="5.00" text-anchor="middle" fill="#222" stroke="#222" stroke-width="0.16">*</text>
<rect x="70.16" y="555.42" width="6.90" height="2.98" fill="#c6c6cc" />
<rect x="77.88" y="552.43" width="6.90" height="5.97" fill="#c81432" />
<text x="81.33" y="551.23" font-size="5.00" text-anchor="middle" fill="#222" stroke="#222" stroke-width="0.16">*</text>
<rect x="85.60" y="549.45" width="6.90" height="8.95" fill="#c6c6cc" />
<rect x="93.32" y="555.42" width="6.90" height="2.98" fill="#c6c6cc" />
<rect x="101.04" y="555.42" width="6.90" height="2.98" fill="#c6c6cc" />
<rect x="108.76" y="555.42" width="6.90" height="2.98" fill="#c6c6cc" />
<rect x="124.20" y="555.42" width="6.90" height="2.98" fill="#c6c6cc" />
<rect x="147.36" y="555.42" width="6.90" height="2.98" fill="#c6c6cc" />
<rect x="162.80" y="552.43" width="6.90" height="5.97" fill="#c6c6cc" />
<rect x="201.40" y="552.43" width="6.90" height="5.97" fill="#c6c6cc" />
<rect x="209.12" y="552.43" width="6.90" height="5.97" fill="#c6c6cc" />
<rect x="216.84" y="552.43" width="6.90" height="5.97" fill="#c6c6cc" />
<rect x="224.56" y="552.43" width="6.90" height="5.97" fill="#c6c6cc" />
<line x1="44.80" y1="558.40" x2="232.70" y2="558.40" stroke="#111" stroke-width="1.10" />
<text x="139.20" y="481.00" font-size="8.45" text-anchor="middle" fill="#222" stroke="#222" stroke-width="0.06">B-cell lymphoma (n = 20)</text>
<rect x="199.80" y="485.00" width="5.80" height="5.80" fill="#c81432" />
<text x="208.70" y="489.80" font-size="5.80" fill="#222" stroke="#222" stroke-width="0.10" textLength="22.20" lengthAdjust="spacingAndGlyphs"><tspan font-style="italic">q</tspan> &lt; 0.01</text>
<text x="7.20" y="584.30" font-size="11.00" fill="#111" font-weight="bold" stroke="#111" stroke-width="0.55">H</text>
<line x1="45.30" y1="582.00" x2="45.30" y2="660.10" stroke="#111" stroke-width="1.00" />
<line x1="42.00" y1="659.60" x2="45.30" y2="659.60" stroke="#111" stroke-width="0.90" />
<text x="39.10" y="661.90" font-size="6.50" text-anchor="end" fill="#333" stroke="#333" stroke-width="0.10">0</text>
<line x1="42.00" y1="644.68" x2="45.30" y2="644.68" stroke="#111" stroke-width="0.90" />
<text x="39.10" y="646.98" font-size="6.50" text-anchor="end" fill="#333" stroke="#333" stroke-width="0.10">5</text>
<line x1="42.00" y1="629.76" x2="45.30" y2="629.76" stroke="#111" stroke-width="0.90" />
<text x="39.10" y="632.06" font-size="6.50" text-anchor="end" fill="#333" stroke="#333" stroke-width="0.10">10</text>
<line x1="42.00" y1="614.84" x2="45.30" y2="614.84" stroke="#111" stroke-width="0.90" />
<text x="39.10" y="617.14" font-size="6.50" text-anchor="end" fill="#333" stroke="#333" stroke-width="0.10">15</text>
<line x1="42.00" y1="599.92" x2="45.30" y2="599.92" stroke="#111" stroke-width="0.90" />
<text x="39.10" y="602.22" font-size="6.50" text-anchor="end" fill="#333" stroke="#333" stroke-width="0.10">20</text>
<line x1="42.00" y1="585.00" x2="45.30" y2="585.00" stroke="#111" stroke-width="0.90" />
<text x="39.10" y="587.30" font-size="6.50" text-anchor="end" fill="#333" stroke="#333" stroke-width="0.10">25</text>
<text x="0" y="0" font-size="7.60" text-anchor="middle" fill="#222" stroke="#222" stroke-width="0.15" font-weight="bold" textLength="51.40" lengthAdjust="spacingAndGlyphs" transform="translate(26.00 620.40) rotate(-90)">Number of samples</text>
<rect x="47.00" y="602.90" width="6.90" height="56.70" fill="#dc1987" />
<text x="50.45" y="601.70" font-size="5.00" text-anchor="middle" fill="#222" stroke="#222" stroke-width="0.16">*</text>
<rect x="54.72" y="656.62" width="6.90" height="2.98" fill="#c6c6cc" />
<rect x="62.44" y="656.62" width="6.90" height="2.98" fill="#c6c6cc" />
<rect x="77.88" y="653.63" width="6.90" height="5.97" fill="#c6c6cc" />
<rect x="101.04" y="656.62" width="6.90" height="2.98" fill="#c6c6cc" />
<rect x="108.76" y="653.63" width="6.90" height="5.97" fill="#c6c6cc" />
<rect x="116.48" y="650.65" width="6.90" height="8.95" fill="#c6c6cc" />
<rect x="124.20" y="653.63" width="6.90" height="5.97" fill="#c6c6cc" />
<rect x="131.92" y="656.62" width="6.90" height="2.98" fill="#c6c6cc" />
<rect x="139.64" y="656.62" width="6.90" height="2.98" fill="#c6c6cc" />
<rect x="147.36" y="656.62" width="6.90" height="2.98" fill="#c6c6cc" />
<rect x="155.08" y="656.62" width="6.90" height="2.98" fill="#c6c6cc" />
<rect x="162.80" y="656.62" width="6.90" height="2.98" fill="#c6c6cc" />
<rect x="170.52" y="656.62" width="6.90" height="2.98" fill="#c6c6cc" />
<rect x="185.96" y="656.62" width="6.90" height="2.98" fill="#c6c6cc" />
<rect x="209.12" y="656.62" width="6.90" height="2.98" fill="#c6c6cc" />
<line x1="44.80" y1="659.60" x2="232.00" y2="659.60" stroke="#111" stroke-width="1.10" />
<text x="139.20" y="581.50" font-size="8.45" text-anchor="middle" fill="#222" stroke="#222" stroke-width="0.06">B-ALL/LBL (n = 19)</text>
<rect x="200.00" y="586.20" width="5.80" height="5.80" fill="#dc1987" />
<text x="208.90" y="591.00" font-size="5.80" fill="#222" stroke="#222" stroke-width="0.10" textLength="22.20" lengthAdjust="spacingAndGlyphs"><tspan font-style="italic">q</tspan> &lt; 0.01</text>
<line x1="50.45" y1="659.60" x2="50.45" y2="662.60" stroke="#111" stroke-width="0.90" />
<text x="0" y="0" font-size="6.60" text-anchor="end" fill="#222" stroke="#222" stroke-width="0.14" font-style="italic" transform="translate(52.65 665.40) rotate(-90)">Pax5</text>
<line x1="58.17" y1="659.60" x2="58.17" y2="662.60" stroke="#111" stroke-width="0.90" />
<text x="0" y="0" font-size="6.60" text-anchor="end" fill="#222" stroke="#222" stroke-width="0.14" font-style="italic" transform="translate(60.37 665.40) rotate(-90)">Kmt2d</text>
<line x1="65.89" y1="659.60" x2="65.89" y2="662.60" stroke="#111" stroke-width="0.90" />
<text x="0" y="0" font-size="6.60" text-anchor="end" fill="#222" stroke="#222" stroke-width="0.14" font-style="italic" transform="translate(68.09 665.40) rotate(-90)">Zc3h12a</text>
<line x1="73.61" y1="659.60" x2="73.61" y2="662.60" stroke="#111" stroke-width="0.90" />
<text x="0" y="0" font-size="6.60" text-anchor="end" fill="#222" stroke="#222" stroke-width="0.14" font-style="italic" transform="translate(75.81 665.40) rotate(-90)">Socs1</text>
<line x1="81.33" y1="659.60" x2="81.33" y2="662.60" stroke="#111" stroke-width="0.90" />
<text x="0" y="0" font-size="6.60" text-anchor="end" fill="#222" stroke="#222" stroke-width="0.14" font-style="italic" transform="translate(83.53 665.40) rotate(-90)">Trp53</text>
<line x1="89.05" y1="659.60" x2="89.05" y2="662.60" stroke="#111" stroke-width="0.90" />
<text x="0" y="0" font-size="6.60" text-anchor="end" fill="#222" stroke="#222" stroke-width="0.14" transform="translate(91.25 665.40) rotate(-90)">Cdkn2a</text>
<line x1="96.77" y1="659.60" x2="96.77" y2="662.60" stroke="#111" stroke-width="0.90" />
<text x="0" y="0" font-size="6.60" text-anchor="end" fill="#222" stroke="#222" stroke-width="0.14" font-style="italic" transform="translate(98.97 665.40) rotate(-90)">Irf2bp2</text>
<line x1="104.49" y1="659.60" x2="104.49" y2="662.60" stroke="#111" stroke-width="0.90" />
<text x="0" y="0" font-size="6.60" text-anchor="end" fill="#222" stroke="#222" stroke-width="0.14" font-style="italic" transform="translate(106.69 665.40) rotate(-90)">Crebbp</text>
<line x1="112.21" y1="659.60" x2="112.21" y2="662.60" stroke="#111" stroke-width="0.90" />
<text x="0" y="0" font-size="6.60" text-anchor="end" fill="#222" stroke="#222" stroke-width="0.14" font-style="italic" transform="translate(114.41 665.40) rotate(-90)">Fas</text>
<line x1="119.93" y1="659.60" x2="119.93" y2="662.60" stroke="#111" stroke-width="0.90" />
<text x="0" y="0" font-size="6.60" text-anchor="end" fill="#222" stroke="#222" stroke-width="0.14" font-style="italic" transform="translate(122.13 665.40) rotate(-90)">Arid5b</text>
<line x1="127.65" y1="659.60" x2="127.65" y2="662.60" stroke="#111" stroke-width="0.90" />
<text x="0" y="0" font-size="6.60" text-anchor="end" fill="#222" stroke="#222" stroke-width="0.14" font-style="italic" transform="translate(129.85 665.40) rotate(-90)">Gna13</text>
<line x1="135.37" y1="659.60" x2="135.37" y2="662.60" stroke="#111" stroke-width="0.90" />
<text x="0" y="0" font-size="6.60" text-anchor="end" fill="#222" stroke="#222" stroke-width="0.14" font-style="italic" transform="translate(137.57 665.40) rotate(-90)">Pclo</text>
<line x1="143.09" y1="659.60" x2="143.09" y2="662.60" stroke="#111" stroke-width="0.90" />
<text x="0" y="0" font-size="6.60" text-anchor="end" fill="#222" stroke="#222" stroke-width="0.14" font-style="italic" transform="translate(145.29 665.40) rotate(-90)">Ptpn6</text>
<line x1="150.81" y1="659.60" x2="150.81" y2="662.60" stroke="#111" stroke-width="0.90" />
<text x="0" y="0" font-size="6.60" text-anchor="end" fill="#222" stroke="#222" stroke-width="0.14" font-style="italic" transform="translate(153.01 665.40) rotate(-90)">Tlr2</text>
<line x1="158.53" y1="659.60" x2="158.53" y2="662.60" stroke="#111" stroke-width="0.90" />
<text x="0" y="0" font-size="6.60" text-anchor="end" fill="#222" stroke="#222" stroke-width="0.14" font-style="italic" transform="translate(160.73 665.40) rotate(-90)">Arid1b</text>
<line x1="166.25" y1="659.60" x2="166.25" y2="662.60" stroke="#111" stroke-width="0.90" />
<text x="0" y="0" font-size="6.60" text-anchor="end" fill="#222" stroke="#222" stroke-width="0.14" font-style="italic" transform="translate(168.45 665.40) rotate(-90)">Atm</text>
<line x1="173.97" y1="659.60" x2="173.97" y2="662.60" stroke="#111" stroke-width="0.90" />
<text x="0" y="0" font-size="6.60" text-anchor="end" fill="#222" stroke="#222" stroke-width="0.14" font-style="italic" transform="translate(176.17 665.40) rotate(-90)">Ep300</text>
<line x1="181.69" y1="659.60" x2="181.69" y2="662.60" stroke="#111" stroke-width="0.90" />
<text x="0" y="0" font-size="6.60" text-anchor="end" fill="#222" stroke="#222" stroke-width="0.14" font-style="italic" transform="translate(183.89 665.40) rotate(-90)">Foxo1</text>
<line x1="189.41" y1="659.60" x2="189.41" y2="662.60" stroke="#111" stroke-width="0.90" />
<text x="0" y="0" font-size="6.60" text-anchor="end" fill="#222" stroke="#222" stroke-width="0.14" font-style="italic" transform="translate(191.61 665.40) rotate(-90)">Igll1</text>
<line x1="197.13" y1="659.60" x2="197.13" y2="662.60" stroke="#111" stroke-width="0.90" />
<text x="0" y="0" font-size="6.60" text-anchor="end" fill="#222" stroke="#222" stroke-width="0.14" font-style="italic" transform="translate(199.33 665.40) rotate(-90)">Klhl14</text>
<line x1="204.85" y1="659.60" x2="204.85" y2="662.60" stroke="#111" stroke-width="0.90" />
<text x="0" y="0" font-size="6.60" text-anchor="end" fill="#222" stroke="#222" stroke-width="0.14" font-style="italic" transform="translate(207.05 665.40) rotate(-90)">Prdm1</text>
<line x1="212.57" y1="659.60" x2="212.57" y2="662.60" stroke="#111" stroke-width="0.90" />
<text x="0" y="0" font-size="6.60" text-anchor="end" fill="#222" stroke="#222" stroke-width="0.14" font-style="italic" transform="translate(214.77 665.40) rotate(-90)">S1pr2</text>
<line x1="220.29" y1="659.60" x2="220.29" y2="662.60" stroke="#111" stroke-width="0.90" />
<text x="0" y="0" font-size="6.60" text-anchor="end" fill="#222" stroke="#222" stroke-width="0.14" font-style="italic" transform="translate(222.49 665.40) rotate(-90)">Spen</text>
<line x1="228.01" y1="659.60" x2="228.01" y2="662.60" stroke="#111" stroke-width="0.90" />
<text x="0" y="0" font-size="6.60" text-anchor="end" fill="#222" stroke="#222" stroke-width="0.14" font-style="italic" transform="translate(230.21 665.40) rotate(-90)">Ube2a</text>
<text x="248.60" y="381.30" font-size="11.00" fill="#111" font-weight="bold" stroke="#111" stroke-width="0.55">I</text>
<line x1="286.50" y1="379.50" x2="286.50" y2="457.30" stroke="#111" stroke-width="1.00" />
<line x1="283.20" y1="456.80" x2="286.50" y2="456.80" stroke="#111" stroke-width="0.90" />
<text x="280.30" y="459.10" font-size="6.50" text-anchor="end" fill="#333" stroke="#333" stroke-width="0.10">0</text>
<line x1="283.20" y1="441.88" x2="286.50" y2="441.88" stroke="#111" stroke-width="0.90" />
<text x="280.30" y="444.18" font-size="6.50" text-anchor="end" fill="#333" stroke="#333" stroke-width="0.10">5</text>
<line x1="283.20" y1="426.96" x2="286.50" y2="426.96" stroke="#111" stroke-width="0.90" />
<text x="280.30" y="429.26" font-size="6.50" text-anchor="end" fill="#333" stroke="#333" stroke-width="0.10">10</text>
<line x1="283.20" y1="412.04" x2="286.50" y2="412.04" stroke="#111" stroke-width="0.90" />
<text x="280.30" y="414.34" font-size="6.50" text-anchor="end" fill="#333" stroke="#333" stroke-width="0.10">15</text>
<line x1="283.20" y1="397.12" x2="286.50" y2="397.12" stroke="#111" stroke-width="0.90" />
<text x="280.30" y="399.42" font-size="6.50" text-anchor="end" fill="#333" stroke="#333" stroke-width="0.10">20</text>
<line x1="283.20" y1="382.20" x2="286.50" y2="382.20" stroke="#111" stroke-width="0.90" />
<text x="280.30" y="384.50" font-size="6.50" text-anchor="end" fill="#333" stroke="#333" stroke-width="0.10">25</text>
<text x="0" y="0" font-size="7.60" text-anchor="middle" fill="#222" stroke="#222" stroke-width="0.15" font-weight="bold" textLength="51.20" lengthAdjust="spacingAndGlyphs" transform="translate(267.00 418.50) rotate(-90)">Number of samples</text>
<rect x="287.80" y="447.85" width="6.90" height="8.95" fill="#c6c6cc" />
<rect x="303.24" y="420.99" width="6.90" height="35.81" fill="#0f568c" />
<text x="306.69" y="419.79" font-size="5.00" text-anchor="middle" fill="#222" stroke="#222" stroke-width="0.16">*</text>
<rect x="310.96" y="450.83" width="6.90" height="5.97" fill="#c6c6cc" />
<rect x="318.68" y="453.82" width="6.90" height="2.98" fill="#c6c6cc" />
<rect x="326.40" y="453.82" width="6.90" height="2.98" fill="#c6c6cc" />
<rect x="334.12" y="453.82" width="6.90" height="2.98" fill="#c6c6cc" />
<rect x="341.84" y="453.82" width="6.90" height="2.98" fill="#c6c6cc" />
<rect x="349.56" y="453.82" width="6.90" height="2.98" fill="#c6c6cc" />
<rect x="372.72" y="450.83" width="6.90" height="5.97" fill="#c6c6cc" />
<rect x="380.44" y="450.83" width="6.90" height="5.97" fill="#c6c6cc" />
<rect x="388.16" y="450.83" width="6.90" height="5.97" fill="#c6c6cc" />
<rect x="395.88" y="450.83" width="6.90" height="5.97" fill="#c6c6cc" />
<rect x="403.60" y="450.83" width="6.90" height="5.97" fill="#c6c6cc" />
<rect x="411.32" y="444.86" width="6.90" height="11.94" fill="#c6c6cc" />
<rect x="419.04" y="450.83" width="6.90" height="5.97" fill="#c6c6cc" />
<rect x="426.76" y="447.85" width="6.90" height="8.95" fill="#c6c6cc" />
<rect x="434.48" y="453.82" width="6.90" height="2.98" fill="#c6c6cc" />
<rect x="442.20" y="453.82" width="6.90" height="2.98" fill="#c6c6cc" />
<rect x="449.92" y="453.82" width="6.90" height="2.98" fill="#c6c6cc" />
<rect x="457.64" y="453.82" width="6.90" height="2.98" fill="#c6c6cc" />
<rect x="465.36" y="453.82" width="6.90" height="2.98" fill="#c6c6cc" />
<line x1="286.00" y1="456.80" x2="474.00" y2="456.80" stroke="#111" stroke-width="1.10" />
<text x="380.00" y="378.90" font-size="8.45" text-anchor="middle" fill="#222" stroke="#222" stroke-width="0.06">T-cell lymphoma (n = 24)</text>
<rect x="442.50" y="383.40" width="5.80" height="5.80" fill="#0f568c" />
<text x="451.40" y="388.20" font-size="5.80" fill="#222" stroke="#222" stroke-width="0.10" textLength="22.20" lengthAdjust="spacingAndGlyphs"><tspan font-style="italic">q</tspan> &lt; 0.01</text>
<text x="249.60" y="481.90" font-size="11.00" fill="#111" font-weight="bold" stroke="#111" stroke-width="0.55">J</text>
<line x1="286.50" y1="481.00" x2="286.50" y2="558.90" stroke="#111" stroke-width="1.00" />
<line x1="283.20" y1="558.40" x2="286.50" y2="558.40" stroke="#111" stroke-width="0.90" />
<text x="280.30" y="560.70" font-size="6.50" text-anchor="end" fill="#333" stroke="#333" stroke-width="0.10">0</text>
<line x1="283.20" y1="543.48" x2="286.50" y2="543.48" stroke="#111" stroke-width="0.90" />
<text x="280.30" y="545.78" font-size="6.50" text-anchor="end" fill="#333" stroke="#333" stroke-width="0.10">5</text>
<line x1="283.20" y1="528.56" x2="286.50" y2="528.56" stroke="#111" stroke-width="0.90" />
<text x="280.30" y="530.86" font-size="6.50" text-anchor="end" fill="#333" stroke="#333" stroke-width="0.10">10</text>
<line x1="283.20" y1="513.64" x2="286.50" y2="513.64" stroke="#111" stroke-width="0.90" />
<text x="280.30" y="515.94" font-size="6.50" text-anchor="end" fill="#333" stroke="#333" stroke-width="0.10">15</text>
<line x1="283.20" y1="498.72" x2="286.50" y2="498.72" stroke="#111" stroke-width="0.90" />
<text x="280.30" y="501.02" font-size="6.50" text-anchor="end" fill="#333" stroke="#333" stroke-width="0.10">20</text>
<line x1="283.20" y1="483.80" x2="286.50" y2="483.80" stroke="#111" stroke-width="0.90" />
<text x="280.30" y="486.10" font-size="6.50" text-anchor="end" fill="#333" stroke="#333" stroke-width="0.10">25</text>
<text x="0" y="0" font-size="7.60" text-anchor="middle" fill="#222" stroke="#222" stroke-width="0.15" font-weight="bold" textLength="51.40" lengthAdjust="spacingAndGlyphs" transform="translate(267.00 519.60) rotate(-90)">Number of samples</text>
<rect x="310.96" y="537.51" width="6.90" height="20.89" fill="#23a5e1" />
<text x="314.41" y="536.31" font-size="5.00" text-anchor="middle" fill="#222" stroke="#222" stroke-width="0.16">*</text>
<rect x="318.68" y="549.45" width="6.90" height="8.95" fill="#23a5e1" />
<text x="322.13" y="548.25" font-size="5.00" text-anchor="middle" fill="#222" stroke="#222" stroke-width="0.16">*</text>
<rect x="326.40" y="555.42" width="6.90" height="2.98" fill="#c6c6cc" />
<rect x="334.12" y="552.43" width="6.90" height="5.97" fill="#c6c6cc" />
<rect x="341.84" y="555.42" width="6.90" height="2.98" fill="#c6c6cc" />
<rect x="349.56" y="555.42" width="6.90" height="2.98" fill="#c6c6cc" />
<rect x="357.28" y="552.43" width="6.90" height="5.97" fill="#c6c6cc" />
<rect x="365.00" y="552.43" width="6.90" height="5.97" fill="#c6c6cc" />
<rect x="388.16" y="555.42" width="6.90" height="2.98" fill="#c6c6cc" />
<rect x="419.04" y="552.43" width="6.90" height="5.97" fill="#c6c6cc" />
<rect x="434.48" y="552.43" width="6.90" height="5.97" fill="#c6c6cc" />
<rect x="449.92" y="555.42" width="6.90" height="2.98" fill="#c6c6cc" />
<rect x="457.64" y="555.42" width="6.90" height="2.98" fill="#c6c6cc" />
<rect x="465.36" y="552.43" width="6.90" height="5.97" fill="#c6c6cc" />
<line x1="286.00" y1="558.40" x2="474.50" y2="558.40" stroke="#111" stroke-width="1.10" />
<text x="378.40" y="479.50" font-size="8.45" text-anchor="middle" fill="#222" stroke="#222" stroke-width="0.06">T-ALL/LBL (n = 15)</text>
<rect x="443.00" y="485.50" width="5.80" height="5.80" fill="#23a5e1" />
<text x="451.90" y="490.30" font-size="5.80" fill="#222" stroke="#222" stroke-width="0.10" textLength="22.20" lengthAdjust="spacingAndGlyphs"><tspan font-style="italic">q</tspan> &lt; 0.01</text>
<text x="243.50" y="587.60" font-size="11.00" fill="#111" font-weight="bold" stroke="#111" stroke-width="0.55">K</text>
<line x1="286.50" y1="582.20" x2="286.50" y2="659.70" stroke="#111" stroke-width="1.00" />
<line x1="283.20" y1="659.20" x2="286.50" y2="659.20" stroke="#111" stroke-width="0.90" />
<text x="280.30" y="661.50" font-size="6.50" text-anchor="end" fill="#333" stroke="#333" stroke-width="0.10">0</text>
<line x1="283.20" y1="644.28" x2="286.50" y2="644.28" stroke="#111" stroke-width="0.90" />
<text x="280.30" y="646.58" font-size="6.50" text-anchor="end" fill="#333" stroke="#333" stroke-width="0.10">5</text>
<line x1="283.20" y1="629.36" x2="286.50" y2="629.36" stroke="#111" stroke-width="0.90" />
<text x="280.30" y="631.66" font-size="6.50" text-anchor="end" fill="#333" stroke="#333" stroke-width="0.10">10</text>
<line x1="283.20" y1="614.44" x2="286.50" y2="614.44" stroke="#111" stroke-width="0.90" />
<text x="280.30" y="616.74" font-size="6.50" text-anchor="end" fill="#333" stroke="#333" stroke-width="0.10">15</text>
<line x1="283.20" y1="599.52" x2="286.50" y2="599.52" stroke="#111" stroke-width="0.90" />
<text x="280.30" y="601.82" font-size="6.50" text-anchor="end" fill="#333" stroke="#333" stroke-width="0.10">20</text>
<line x1="283.20" y1="584.60" x2="286.50" y2="584.60" stroke="#111" stroke-width="0.90" />
<text x="280.30" y="586.90" font-size="6.50" text-anchor="end" fill="#333" stroke="#333" stroke-width="0.10">25</text>
<text x="0" y="0" font-size="7.60" text-anchor="middle" fill="#222" stroke="#222" stroke-width="0.15" font-weight="bold" textLength="50.80" lengthAdjust="spacingAndGlyphs" transform="translate(266.80 620.70) rotate(-90)">Number of samples</text>
<rect x="287.80" y="653.23" width="6.90" height="5.97" fill="#c6c6cc" />
<rect x="295.52" y="653.23" width="6.90" height="5.97" fill="#c6c6cc" />
<rect x="310.96" y="653.23" width="6.90" height="5.97" fill="#c6c6cc" />
<rect x="318.68" y="653.23" width="6.90" height="5.97" fill="#c6c6cc" />
<rect x="326.40" y="650.25" width="6.90" height="8.95" fill="#c6c6cc" />
<rect x="334.12" y="647.26" width="6.90" height="11.94" fill="#37af41" />
<text x="337.57" y="646.06" font-size="5.00" text-anchor="middle" fill="#222" stroke="#222" stroke-width="0.16">*</text>
<rect x="341.84" y="653.23" width="6.90" height="5.97" fill="#c6c6cc" />
<rect x="349.56" y="653.23" width="6.90" height="5.97" fill="#c6c6cc" />
<rect x="357.28" y="656.22" width="6.90" height="2.98" fill="#c6c6cc" />
<rect x="365.00" y="656.22" width="6.90" height="2.98" fill="#c6c6cc" />
<rect x="372.72" y="650.25" width="6.90" height="8.95" fill="#c6c6cc" />
<rect x="380.44" y="650.25" width="6.90" height="8.95" fill="#c6c6cc" />
<rect x="388.16" y="656.22" width="6.90" height="2.98" fill="#c6c6cc" />
<rect x="395.88" y="656.22" width="6.90" height="2.98" fill="#c6c6cc" />
<rect x="434.48" y="653.23" width="6.90" height="5.97" fill="#c6c6cc" />
<rect x="442.20" y="656.22" width="6.90" height="2.98" fill="#c6c6cc" />
<rect x="457.64" y="656.22" width="6.90" height="2.98" fill="#c6c6cc" />
<line x1="286.00" y1="659.20" x2="474.00" y2="659.20" stroke="#111" stroke-width="1.10" />
<text x="378.40" y="581.90" font-size="8.45" text-anchor="middle" fill="#222" stroke="#222" stroke-width="0.06">AML (n = 20)</text>
<rect x="443.00" y="586.50" width="5.80" height="5.80" fill="#37af41" />
<text x="451.90" y="591.30" font-size="5.80" fill="#222" stroke="#222" stroke-width="0.10" textLength="22.20" lengthAdjust="spacingAndGlyphs"><tspan font-style="italic">q</tspan> &lt; 0.01</text>
<line x1="291.25" y1="659.20" x2="291.25" y2="662.20" stroke="#111" stroke-width="0.90" />
<text x="0" y="0" font-size="6.60" text-anchor="end" fill="#222" stroke="#222" stroke-width="0.14" font-style="italic" transform="translate(293.45 665.00) rotate(-90)">Pax5</text>
<line x1="298.97" y1="659.20" x2="298.97" y2="662.20" stroke="#111" stroke-width="0.90" />
<text x="0" y="0" font-size="6.60" text-anchor="end" fill="#222" stroke="#222" stroke-width="0.14" font-style="italic" transform="translate(301.17 665.00) rotate(-90)">Kmt2d</text>
<line x1="306.69" y1="659.20" x2="306.69" y2="662.20" stroke="#111" stroke-width="0.90" />
<text x="0" y="0" font-size="6.60" text-anchor="end" fill="#222" stroke="#222" stroke-width="0.14" font-style="italic" transform="translate(308.89 665.00) rotate(-90)">Zc3h12a</text>
<line x1="314.41" y1="659.20" x2="314.41" y2="662.20" stroke="#111" stroke-width="0.90" />
<text x="0" y="0" font-size="6.60" text-anchor="end" fill="#222" stroke="#222" stroke-width="0.14" font-style="italic" transform="translate(316.61 665.00) rotate(-90)">Socs1</text>
<line x1="322.13" y1="659.20" x2="322.13" y2="662.20" stroke="#111" stroke-width="0.90" />
<text x="0" y="0" font-size="6.60" text-anchor="end" fill="#222" stroke="#222" stroke-width="0.14" font-style="italic" transform="translate(324.33 665.00) rotate(-90)">Trp53</text>
<line x1="329.85" y1="659.20" x2="329.85" y2="662.20" stroke="#111" stroke-width="0.90" />
<text x="0" y="0" font-size="6.60" text-anchor="end" fill="#222" stroke="#222" stroke-width="0.14" transform="translate(332.05 665.00) rotate(-90)">Cdkn2a</text>
<line x1="337.57" y1="659.20" x2="337.57" y2="662.20" stroke="#111" stroke-width="0.90" />
<text x="0" y="0" font-size="6.60" text-anchor="end" fill="#222" stroke="#222" stroke-width="0.14" font-style="italic" transform="translate(339.77 665.00) rotate(-90)">Irf2bp2</text>
<line x1="345.29" y1="659.20" x2="345.29" y2="662.20" stroke="#111" stroke-width="0.90" />
<text x="0" y="0" font-size="6.60" text-anchor="end" fill="#222" stroke="#222" stroke-width="0.14" font-style="italic" transform="translate(347.49 665.00) rotate(-90)">Crebbp</text>
<line x1="353.01" y1="659.20" x2="353.01" y2="662.20" stroke="#111" stroke-width="0.90" />
<text x="0" y="0" font-size="6.60" text-anchor="end" fill="#222" stroke="#222" stroke-width="0.14" font-style="italic" transform="translate(355.21 665.00) rotate(-90)">Fas</text>
<line x1="360.73" y1="659.20" x2="360.73" y2="662.20" stroke="#111" stroke-width="0.90" />
<text x="0" y="0" font-size="6.60" text-anchor="end" fill="#222" stroke="#222" stroke-width="0.14" font-style="italic" transform="translate(362.93 665.00) rotate(-90)">Arid5b</text>
<line x1="368.45" y1="659.20" x2="368.45" y2="662.20" stroke="#111" stroke-width="0.90" />
<text x="0" y="0" font-size="6.60" text-anchor="end" fill="#222" stroke="#222" stroke-width="0.14" font-style="italic" transform="translate(370.65 665.00) rotate(-90)">Gna13</text>
<line x1="376.17" y1="659.20" x2="376.17" y2="662.20" stroke="#111" stroke-width="0.90" />
<text x="0" y="0" font-size="6.60" text-anchor="end" fill="#222" stroke="#222" stroke-width="0.14" font-style="italic" transform="translate(378.37 665.00) rotate(-90)">Pclo</text>
<line x1="383.89" y1="659.20" x2="383.89" y2="662.20" stroke="#111" stroke-width="0.90" />
<text x="0" y="0" font-size="6.60" text-anchor="end" fill="#222" stroke="#222" stroke-width="0.14" font-style="italic" transform="translate(386.09 665.00) rotate(-90)">Ptpn6</text>
<line x1="391.61" y1="659.20" x2="391.61" y2="662.20" stroke="#111" stroke-width="0.90" />
<text x="0" y="0" font-size="6.60" text-anchor="end" fill="#222" stroke="#222" stroke-width="0.14" font-style="italic" transform="translate(393.81 665.00) rotate(-90)">Tlr2</text>
<line x1="399.33" y1="659.20" x2="399.33" y2="662.20" stroke="#111" stroke-width="0.90" />
<text x="0" y="0" font-size="6.60" text-anchor="end" fill="#222" stroke="#222" stroke-width="0.14" font-style="italic" transform="translate(401.53 665.00) rotate(-90)">Arid1b</text>
<line x1="407.05" y1="659.20" x2="407.05" y2="662.20" stroke="#111" stroke-width="0.90" />
<text x="0" y="0" font-size="6.60" text-anchor="end" fill="#222" stroke="#222" stroke-width="0.14" font-style="italic" transform="translate(409.25 665.00) rotate(-90)">Atm</text>
<line x1="414.77" y1="659.20" x2="414.77" y2="662.20" stroke="#111" stroke-width="0.90" />
<text x="0" y="0" font-size="6.60" text-anchor="end" fill="#222" stroke="#222" stroke-width="0.14" font-style="italic" transform="translate(416.97 665.00) rotate(-90)">Ep300</text>
<line x1="422.49" y1="659.20" x2="422.49" y2="662.20" stroke="#111" stroke-width="0.90" />
<text x="0" y="0" font-size="6.60" text-anchor="end" fill="#222" stroke="#222" stroke-width="0.14" font-style="italic" transform="translate(424.69 665.00) rotate(-90)">Foxo1</text>
<line x1="430.21" y1="659.20" x2="430.21" y2="662.20" stroke="#111" stroke-width="0.90" />
<text x="0" y="0" font-size="6.60" text-anchor="end" fill="#222" stroke="#222" stroke-width="0.14" font-style="italic" transform="translate(432.41 665.00) rotate(-90)">Igll1</text>
<line x1="437.93" y1="659.20" x2="437.93" y2="662.20" stroke="#111" stroke-width="0.90" />
<text x="0" y="0" font-size="6.60" text-anchor="end" fill="#222" stroke="#222" stroke-width="0.14" font-style="italic" transform="translate(440.13 665.00) rotate(-90)">Klhl14</text>
<line x1="445.65" y1="659.20" x2="445.65" y2="662.20" stroke="#111" stroke-width="0.90" />
<text x="0" y="0" font-size="6.60" text-anchor="end" fill="#222" stroke="#222" stroke-width="0.14" font-style="italic" transform="translate(447.85 665.00) rotate(-90)">Prdm1</text>
<line x1="453.37" y1="659.20" x2="453.37" y2="662.20" stroke="#111" stroke-width="0.90" />
<text x="0" y="0" font-size="6.60" text-anchor="end" fill="#222" stroke="#222" stroke-width="0.14" font-style="italic" transform="translate(455.57 665.00) rotate(-90)">S1pr2</text>
<line x1="461.09" y1="659.20" x2="461.09" y2="662.20" stroke="#111" stroke-width="0.90" />
<text x="0" y="0" font-size="6.60" text-anchor="end" fill="#222" stroke="#222" stroke-width="0.14" font-style="italic" transform="translate(463.29 665.00) rotate(-90)">Spen</text>
<line x1="468.81" y1="659.20" x2="468.81" y2="662.20" stroke="#111" stroke-width="0.90" />
<text x="0" y="0" font-size="6.60" text-anchor="end" fill="#222" stroke="#222" stroke-width="0.14" font-style="italic" transform="translate(471.01 665.00) rotate(-90)">Ube2a</text>
<text x="138.90" y="701.90" font-size="8.60" text-anchor="middle" fill="#222" font-weight="bold" textLength="15.60" lengthAdjust="spacingAndGlyphs" stroke="#222" stroke-width="0.1">Genes</text>
<text x="379.40" y="700.50" font-size="8.60" text-anchor="middle" fill="#222" font-weight="bold" textLength="15.60" lengthAdjust="spacingAndGlyphs" stroke="#222" stroke-width="0.1">Genes</text>
<rect x="0.5" y="0.5" width="518.6" height="709.6" fill="none" stroke="#4b4b4b" stroke-width="1"/>
<rect x="518.6" y="0" width="1.4" height="711" fill="#4b4b4b"/>
<rect x="0" y="709.6" width="520" height="1.4" fill="#4b4b4b"/></svg></body></html>
